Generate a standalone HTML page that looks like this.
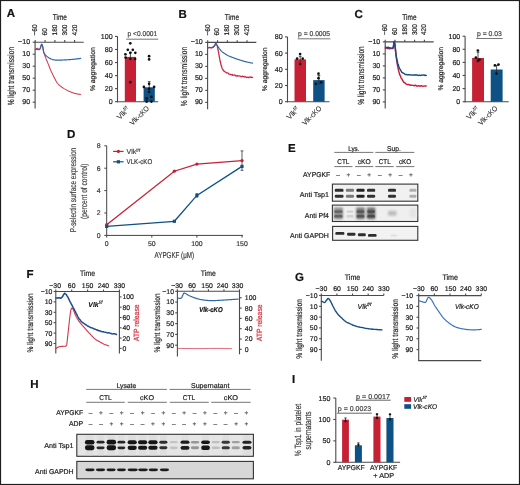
<!DOCTYPE html>
<html><head><meta charset="utf-8"><style>
html,body{margin:0;padding:0;background:#fff;}
body{width:520px;height:485px;overflow:hidden;}
svg{display:block;font-family:"Liberation Sans", sans-serif;text-rendering:geometricPrecision;will-change:transform;}
</style></head><body>
<svg width="520" height="485" viewBox="0 0 520 485">
<defs><filter id="bl" x="-30%" y="-100%" width="160%" height="300%"><feGaussianBlur stdDeviation="0.5"/></filter><filter id="bl3" x="-30%" y="-100%" width="160%" height="300%"><feGaussianBlur stdDeviation="0.7"/></filter><filter id="bl2" x="-30%" y="-50%" width="160%" height="200%"><feGaussianBlur stdDeviation="0.9"/></filter></defs>
<rect x="0.5" y="0.5" width="519" height="484" fill="#fff" stroke="#1e1e1e" stroke-width="1.2"/>
<g fill="#222">
<rect x="332.4" y="184.1" width="85.4" height="17.1" fill="#f1f1f1" stroke="#333" stroke-width="1.1"/>
<rect x="332.4" y="205.1" width="85.4" height="16.4" fill="#efefef" stroke="#333" stroke-width="1.1"/>
<rect x="332.6" y="226.4" width="85.2" height="13.9" fill="#f2f2f2" stroke="#333" stroke-width="1.1"/>
<rect x="334.8" y="188.75" width="8.7" height="3.1" rx="1.2" fill="#2d2d2d" filter="url(#bl3)"/>
<rect x="334.8" y="194.65" width="8.7" height="3.1" rx="1.2" fill="#2d2d2d" filter="url(#bl3)"/>
<rect x="345.9" y="188.75" width="8.1" height="3.1" rx="1.2" fill="#787878" filter="url(#bl3)"/>
<rect x="345.9" y="194.65" width="8.1" height="3.1" rx="1.2" fill="#787878" filter="url(#bl3)"/>
<rect x="356.4" y="188.75" width="8.2" height="3.1" rx="1.2" fill="#232323" filter="url(#bl3)"/>
<rect x="356.4" y="194.65" width="8.2" height="3.1" rx="1.2" fill="#232323" filter="url(#bl3)"/>
<rect x="367" y="188.75" width="8.2" height="3.1" rx="1.2" fill="#323232" filter="url(#bl3)"/>
<rect x="367" y="194.65" width="8.2" height="3.1" rx="1.2" fill="#323232" filter="url(#bl3)"/>
<rect x="388" y="188.75" width="8" height="3.1" rx="1.2" fill="#323232" filter="url(#bl3)"/>
<rect x="388" y="194.65" width="8" height="3.1" rx="1.2" fill="#323232" filter="url(#bl3)"/>
<rect x="409.4" y="188.75" width="7" height="3.1" rx="1.2" fill="#afafaf" filter="url(#bl3)"/>
<rect x="409.4" y="194.65" width="7" height="3.1" rx="1.2" fill="#afafaf" filter="url(#bl3)"/>
<rect x="333.8" y="207.5" width="9.2" height="11.7" rx="1.2" fill="#8c8c8c" filter="url(#bl2)"/>
<rect x="334.3" y="210.4" width="8.2" height="2.4" rx="1.2" fill="#646464" filter="url(#bl)"/>
<rect x="334.3" y="215" width="8.2" height="2.6" rx="1.2" fill="#646464" filter="url(#bl)"/>
<rect x="346" y="213.5" width="8" height="5.7" rx="1.2" fill="#ebebeb" filter="url(#bl2)"/>
<rect x="346.5" y="210.4" width="7" height="2.4" rx="1.2" fill="#d2d2d2" filter="url(#bl)"/>
<rect x="346.5" y="215" width="7" height="2.6" rx="1.2" fill="#d2d2d2" filter="url(#bl)"/>
<rect x="356.2" y="207.5" width="8.6" height="11.7" rx="1.2" fill="#787878" filter="url(#bl2)"/>
<rect x="356.7" y="210.4" width="7.6" height="2.4" rx="1.2" fill="#555555" filter="url(#bl)"/>
<rect x="356.7" y="215" width="7.6" height="2.6" rx="1.2" fill="#555555" filter="url(#bl)"/>
<rect x="366.8" y="207.5" width="8.6" height="11.7" rx="1.2" fill="#6e6e6e" filter="url(#bl2)"/>
<rect x="367.3" y="210.4" width="7.6" height="2.4" rx="1.2" fill="#4b4b4b" filter="url(#bl)"/>
<rect x="367.3" y="215" width="7.6" height="2.6" rx="1.2" fill="#4b4b4b" filter="url(#bl)"/>
<rect x="388" y="210.7" width="8.6" height="5" rx="1.2" fill="#bebebe" filter="url(#bl2)"/>
<rect x="409.6" y="208.5" width="6.6" height="9" rx="1.2" fill="#e4e4e4" filter="url(#bl2)"/>
<rect x="335.3" y="231.95" width="9.1" height="2.9" rx="1.2" fill="#2d2d2d" filter="url(#bl3)"/>
<rect x="347.1" y="232.85" width="8.4" height="2.9" rx="1.2" fill="#2d2d2d" filter="url(#bl3)"/>
<rect x="357.9" y="233.35" width="7.9" height="2.9" rx="1.2" fill="#2d2d2d" filter="url(#bl3)"/>
<rect x="368" y="233.95" width="8.6" height="2.9" rx="1.2" fill="#2d2d2d" filter="url(#bl3)"/>
<rect x="390.5" y="234.6" width="6.5" height="1.8" rx="0.9" fill="#e1e1e1" filter="url(#bl)"/>
<rect x="76.8" y="434.3" width="176.6" height="22" fill="#e5e5e5" stroke="#333" stroke-width="1.1"/>
<rect x="76.8" y="461.4" width="176.6" height="17.4" fill="#d7d7d7" stroke="#333" stroke-width="1.1"/>
<rect x="85.7" y="435.3" width="8" height="20" rx="1.2" fill="#dedede" filter="url(#bl3)"/>
<rect x="84.9" y="439.95" width="9.6" height="4.5" rx="2.3" ry="2.25" fill="#141414" filter="url(#bl3)"/>
<rect x="84.9" y="445.35" width="9.6" height="4.9" rx="2.3" ry="2.45" fill="#141414" filter="url(#bl3)"/>
<rect x="97.3" y="435.3" width="6.5" height="20" rx="1.2" fill="#dedede" filter="url(#bl3)"/>
<rect x="96.5" y="440.85" width="8.1" height="2.7" rx="1.94" ry="1.35" fill="#282828" filter="url(#bl3)"/>
<rect x="96.5" y="446.45" width="8.1" height="2.7" rx="1.94" ry="1.35" fill="#282828" filter="url(#bl3)"/>
<rect x="107.4" y="435.3" width="7.9" height="20" rx="1.2" fill="#dedede" filter="url(#bl3)"/>
<rect x="106.6" y="439.85" width="9.5" height="4.7" rx="2.28" ry="2.35" fill="#141414" filter="url(#bl3)"/>
<rect x="106.6" y="445.35" width="9.5" height="4.9" rx="2.28" ry="2.45" fill="#141414" filter="url(#bl3)"/>
<rect x="118.3" y="435.3" width="6.2" height="20" rx="1.2" fill="#dedede" filter="url(#bl3)"/>
<rect x="117.5" y="440.85" width="7.8" height="2.7" rx="1.87" ry="1.35" fill="#282828" filter="url(#bl3)"/>
<rect x="117.5" y="446.45" width="7.8" height="2.7" rx="1.87" ry="1.35" fill="#282828" filter="url(#bl3)"/>
<rect x="128.4" y="435.3" width="7.6" height="20" rx="1.2" fill="#dedede" filter="url(#bl3)"/>
<rect x="127.6" y="440.15" width="9.2" height="4.1" rx="2.21" ry="2.05" fill="#141414" filter="url(#bl3)"/>
<rect x="127.6" y="445.65" width="9.2" height="4.3" rx="2.21" ry="2.15" fill="#141414" filter="url(#bl3)"/>
<rect x="138.8" y="435.3" width="7.6" height="20" rx="1.2" fill="#dedede" filter="url(#bl3)"/>
<rect x="138" y="440.25" width="9.2" height="3.9" rx="2.21" ry="1.95" fill="#191919" filter="url(#bl3)"/>
<rect x="138" y="445.75" width="9.2" height="4.1" rx="2.21" ry="2.05" fill="#191919" filter="url(#bl3)"/>
<rect x="149.1" y="435.3" width="7.7" height="20" rx="1.2" fill="#dedede" filter="url(#bl3)"/>
<rect x="148.3" y="440.25" width="9.3" height="3.9" rx="2.23" ry="1.95" fill="#191919" filter="url(#bl3)"/>
<rect x="148.3" y="445.75" width="9.3" height="4.1" rx="2.23" ry="2.05" fill="#191919" filter="url(#bl3)"/>
<rect x="160.1" y="435.3" width="6.5" height="20" rx="1.2" fill="#dedede" filter="url(#bl3)"/>
<rect x="159.3" y="440.75" width="8.1" height="2.9" rx="1.94" ry="1.45" fill="#2d2d2d" filter="url(#bl3)"/>
<rect x="159.3" y="446.35" width="8.1" height="2.9" rx="1.94" ry="1.45" fill="#2d2d2d" filter="url(#bl3)"/>
<rect x="169.7" y="441.05" width="8.1" height="2.3" rx="1.94" ry="1.15" fill="#c3c3c3" filter="url(#bl3)"/>
<rect x="169.7" y="446.45" width="8.1" height="2.7" rx="1.94" ry="1.35" fill="#c3c3c3" filter="url(#bl3)"/>
<rect x="181.3" y="435.3" width="7.4" height="20" rx="1.2" fill="#dedede" filter="url(#bl3)"/>
<rect x="180.5" y="440.55" width="9" height="3.3" rx="2.16" ry="1.65" fill="#1e1e1e" filter="url(#bl3)"/>
<rect x="180.5" y="445.95" width="9" height="3.7" rx="2.16" ry="1.85" fill="#1e1e1e" filter="url(#bl3)"/>
<rect x="190.9" y="440.95" width="8.2" height="2.5" rx="1.97" ry="1.25" fill="#969696" filter="url(#bl3)"/>
<rect x="190.9" y="446.35" width="8.2" height="2.9" rx="1.97" ry="1.45" fill="#969696" filter="url(#bl3)"/>
<rect x="202" y="435.3" width="7.1" height="20" rx="1.2" fill="#dedede" filter="url(#bl3)"/>
<rect x="201.2" y="440.45" width="8.7" height="3.5" rx="2.09" ry="1.75" fill="#141414" filter="url(#bl3)"/>
<rect x="201.2" y="445.55" width="8.7" height="4.5" rx="2.09" ry="2.25" fill="#141414" filter="url(#bl3)"/>
<rect x="211.6" y="441.05" width="8.3" height="2.3" rx="1.99" ry="1.15" fill="#bebebe" filter="url(#bl3)"/>
<rect x="211.6" y="446.55" width="8.3" height="2.5" rx="1.99" ry="1.25" fill="#bebebe" filter="url(#bl3)"/>
<rect x="222.4" y="435.3" width="6.7" height="20" rx="1.2" fill="#dedede" filter="url(#bl3)"/>
<rect x="221.6" y="440.75" width="8.3" height="2.9" rx="1.99" ry="1.45" fill="#373737" filter="url(#bl3)"/>
<rect x="221.6" y="446.25" width="8.3" height="3.1" rx="1.99" ry="1.55" fill="#373737" filter="url(#bl3)"/>
<rect x="231.6" y="441.05" width="8.3" height="2.3" rx="1.99" ry="1.15" fill="#a0a0a0" filter="url(#bl3)"/>
<rect x="231.6" y="446.25" width="8.3" height="3.1" rx="1.99" ry="1.55" fill="#a0a0a0" filter="url(#bl3)"/>
<rect x="243.2" y="435.3" width="7.5" height="20" rx="1.2" fill="#dedede" filter="url(#bl3)"/>
<rect x="242.4" y="440.65" width="9.1" height="3.1" rx="2.18" ry="1.55" fill="#232323" filter="url(#bl3)"/>
<rect x="242.4" y="446.05" width="9.1" height="3.5" rx="2.18" ry="1.75" fill="#232323" filter="url(#bl3)"/>
<rect x="85.3" y="468.4" width="9.3" height="2.8" rx="2.42" ry="1.4" fill="#1e1e1e" filter="url(#bl3)"/>
<rect x="95.9" y="468.4" width="9.2" height="2.8" rx="2.39" ry="1.4" fill="#1e1e1e" filter="url(#bl3)"/>
<rect x="106.5" y="468.4" width="9.2" height="2.8" rx="2.39" ry="1.4" fill="#1e1e1e" filter="url(#bl3)"/>
<rect x="117" y="468.4" width="8.9" height="2.8" rx="2.31" ry="1.4" fill="#1e1e1e" filter="url(#bl3)"/>
<rect x="127.6" y="468.4" width="10.2" height="2.8" rx="2.65" ry="1.4" fill="#1e1e1e" filter="url(#bl3)"/>
<rect x="138.2" y="468.4" width="9.6" height="2.8" rx="2.5" ry="1.4" fill="#1e1e1e" filter="url(#bl3)"/>
<rect x="148.7" y="468.4" width="9.3" height="2.8" rx="2.42" ry="1.4" fill="#1e1e1e" filter="url(#bl3)"/>
<rect x="159.9" y="468.4" width="9.1" height="2.8" rx="2.37" ry="1.4" fill="#1e1e1e" filter="url(#bl3)"/>
<text x="6.8" y="17.2" font-size="11.5" stroke="#111" stroke-width="0.2" fill="#111" font-weight="bold">A</text>
<line x1="35.1" y1="42.2" x2="83.8" y2="42.2" stroke="#4a4a4a" stroke-width="1.1"/>
<line x1="35.1" y1="41.65" x2="35.1" y2="108.5" stroke="#4a4a4a" stroke-width="1.1"/>
<line x1="35.2" y1="42.2" x2="35.2" y2="40" stroke="#4a4a4a" stroke-width="1.1"/>
<text font-size="6.9" stroke="#222" stroke-width="0.2" transform="translate(37.1 35.4) rotate(-90) scale(0.9300 1)">−60</text>
<line x1="45.05" y1="42.2" x2="45.05" y2="40" stroke="#4a4a4a" stroke-width="1.1"/>
<text font-size="6.9" stroke="#222" stroke-width="0.2" transform="translate(46.95 35.4) rotate(-90) scale(0.9300 1)">60</text>
<line x1="54.9" y1="42.2" x2="54.9" y2="40" stroke="#4a4a4a" stroke-width="1.1"/>
<text font-size="6.9" stroke="#222" stroke-width="0.2" transform="translate(56.8 35.4) rotate(-90) scale(0.9300 1)">180</text>
<line x1="64.75" y1="42.2" x2="64.75" y2="40" stroke="#4a4a4a" stroke-width="1.1"/>
<text font-size="6.9" stroke="#222" stroke-width="0.2" transform="translate(66.65 35.4) rotate(-90) scale(0.9300 1)">300</text>
<line x1="74.6" y1="42.2" x2="74.6" y2="40" stroke="#4a4a4a" stroke-width="1.1"/>
<text font-size="6.9" stroke="#222" stroke-width="0.2" transform="translate(76.5 35.4) rotate(-90) scale(0.9300 1)">420</text>
<line x1="32.7" y1="42.2" x2="35.1" y2="42.2" stroke="#4a4a4a" stroke-width="1.1"/>
<text x="30.1" y="44.1" font-size="7.1" stroke="#222" stroke-width="0.2" text-anchor="end">−10</text>
<line x1="32.7" y1="54.2" x2="35.1" y2="54.2" stroke="#4a4a4a" stroke-width="1.1"/>
<text x="30.1" y="56.1" font-size="7.1" stroke="#222" stroke-width="0.2" text-anchor="end">10</text>
<line x1="32.7" y1="66.2" x2="35.1" y2="66.2" stroke="#4a4a4a" stroke-width="1.1"/>
<text x="30.1" y="68.1" font-size="7.1" stroke="#222" stroke-width="0.2" text-anchor="end">30</text>
<line x1="32.7" y1="78.2" x2="35.1" y2="78.2" stroke="#4a4a4a" stroke-width="1.1"/>
<text x="30.1" y="80.1" font-size="7.1" stroke="#222" stroke-width="0.2" text-anchor="end">50</text>
<line x1="32.7" y1="90.2" x2="35.1" y2="90.2" stroke="#4a4a4a" stroke-width="1.1"/>
<text x="30.1" y="92.1" font-size="7.1" stroke="#222" stroke-width="0.2" text-anchor="end">70</text>
<line x1="32.7" y1="102.2" x2="35.1" y2="102.2" stroke="#4a4a4a" stroke-width="1.1"/>
<text x="30.1" y="104.1" font-size="7.1" stroke="#222" stroke-width="0.2" text-anchor="end">90</text>
<text font-size="8.2" stroke="#222" stroke-width="0.2" text-anchor="middle" transform="translate(59.8 20.1) scale(0.7925 1)">Time</text>
<text font-size="8.8" stroke="#222" stroke-width="0.2" text-anchor="middle" transform="translate(13.8 76.1) rotate(-90) scale(0.7476 1)">% light transmission</text>
<path d="M35.3 49.3 L35.66 49.1 L36.17 48.8 L36.75 48.53 L37.3 48.4 L37.82 48.54 L38.35 48.85 L38.86 49.14 L39.3 49.2 L39.66 48.99 L39.95 48.61 L40.22 48.1 L40.5 47.5 L40.67 47.06 L40.85 46.49 L41.02 45.87 L41.19 45.26 L41.36 44.73 L41.53 44.35 L41.7 44.2 L41.89 44.31 L42.08 44.65 L42.26 45.17 L42.44 45.8 L42.62 46.5 L42.8 47.2 L42.9 47.63 L42.99 48.08 L43.07 48.57 L43.15 49.07 L43.23 49.6 L43.32 50.14 L43.41 50.7 L43.52 51.26 L43.65 51.83 L43.8 52.4 L43.93 52.85 L44.07 53.3 L44.22 53.77 L44.38 54.25 L44.55 54.73 L44.72 55.22 L44.9 55.71 L45.08 56.2 L45.27 56.69 L45.45 57.18 L45.64 57.66 L45.82 58.13 L46 58.6 L46.19 59.09 L46.38 59.57 L46.57 60.05 L46.77 60.51 L46.96 60.97 L47.16 61.44 L47.35 61.9 L47.56 62.38 L47.76 62.86 L47.97 63.36 L48.18 63.87 L48.4 64.4 L48.58 64.84 L48.76 65.29 L48.94 65.76 L49.13 66.24 L49.31 66.72 L49.5 67.21 L49.7 67.7 L49.89 68.2 L50.09 68.7 L50.29 69.19 L50.48 69.69 L50.69 70.18 L50.89 70.66 L51.09 71.13 L51.3 71.6 L51.53 72.09 L51.76 72.59 L52 73.09 L52.24 73.59 L52.48 74.09 L52.73 74.58 L52.97 75.07 L53.22 75.55 L53.46 76.02 L53.7 76.48 L53.94 76.94 L54.17 77.37 L54.39 77.79 L54.6 78.2 L54.88 78.74 L55.14 79.25 L55.38 79.74 L55.62 80.21 L55.85 80.66 L56.08 81.09 L56.32 81.5 L56.56 81.91 L56.82 82.31 L57.1 82.7 L57.43 83.12 L57.76 83.52 L58.11 83.9 L58.47 84.27 L58.83 84.63 L59.21 84.97 L59.6 85.32 L59.99 85.66 L60.4 86 L60.77 86.31 L61.16 86.61 L61.55 86.91 L61.94 87.21 L62.35 87.5 L62.76 87.79 L63.19 88.07 L63.62 88.35 L64.05 88.63 L64.5 88.9 L64.91 89.14 L65.33 89.38 L65.75 89.62 L66.19 89.86 L66.62 90.09 L67.07 90.31 L67.52 90.54 L67.98 90.76 L68.44 90.98 L68.92 91.19 L69.4 91.4 L69.85 91.59 L70.32 91.79 L70.8 91.98 L71.28 92.17 L71.77 92.36 L72.27 92.54 L72.77 92.72 L73.26 92.9 L73.76 93.06 L74.25 93.22 L74.73 93.36 L75.2 93.5 L75.78 93.65 L76.39 93.79 L77.02 93.91 L77.65 94.03 L78.26 94.13 L78.85 94.22 L79.39 94.31 L79.87 94.38 L80.28 94.45 L80.6 94.5" fill="none" stroke="#d63f56" stroke-width="1.1" stroke-linejoin="round" stroke-linecap="round"/>
<path d="M35.3 49.4 L35.65 49.42 L36.16 49.44 L36.74 49.47 L37.3 49.5 L37.86 49.58 L38.46 49.69 L39.03 49.73 L39.5 49.6 L39.83 49.26 L40.06 48.76 L40.26 48.15 L40.5 47.5 L40.69 46.96 L40.89 46.29 L41.09 45.59 L41.3 44.96 L41.5 44.49 L41.7 44.3 L41.89 44.41 L42.08 44.74 L42.26 45.24 L42.44 45.85 L42.62 46.52 L42.8 47.2 L42.9 47.62 L42.99 48.09 L43.07 48.6 L43.15 49.13 L43.23 49.68 L43.32 50.22 L43.41 50.76 L43.52 51.28 L43.65 51.76 L43.8 52.2 L44.04 52.77 L44.31 53.29 L44.61 53.78 L44.93 54.24 L45.27 54.67 L45.63 55.09 L46 55.5 L46.39 55.9 L46.8 56.27 L47.23 56.63 L47.68 56.97 L48.14 57.29 L48.62 57.6 L49.1 57.9 L49.53 58.15 L49.95 58.4 L50.39 58.64 L50.84 58.86 L51.3 59.07 L51.78 59.27 L52.28 59.44 L52.8 59.6 L53.29 59.72 L53.8 59.82 L54.33 59.91 L54.87 59.99 L55.43 60.05 L55.99 60.1 L56.56 60.14 L57.13 60.17 L57.7 60.2 L58.21 60.21 L58.71 60.21 L59.21 60.21 L59.71 60.19 L60.22 60.16 L60.74 60.13 L61.27 60.1 L61.82 60.07 L62.4 60.03 L63 60 L63.45 59.98 L63.92 59.96 L64.41 59.93 L64.91 59.91 L65.42 59.88 L65.93 59.85 L66.46 59.83 L66.98 59.8 L67.5 59.77 L68.02 59.73 L68.54 59.7 L69.04 59.67 L69.53 59.64 L70 59.6 L70.54 59.56 L71.07 59.51 L71.6 59.46 L72.12 59.41 L72.64 59.36 L73.14 59.31 L73.64 59.26 L74.13 59.21 L74.61 59.15 L75.09 59.1 L75.55 59.05 L76 59 L76.61 58.93 L77.22 58.86 L77.84 58.78 L78.44 58.7 L79 58.63 L79.53 58.56 L80 58.49 L80.39 58.44 L80.7 58.4" fill="none" stroke="#2c69a4" stroke-width="1.2" stroke-linejoin="round" stroke-linecap="round"/>
<line x1="117.5" y1="36.3" x2="117.5" y2="102.25" stroke="#4a4a4a" stroke-width="1.1"/>
<line x1="116.95" y1="101.7" x2="158.2" y2="101.7" stroke="#4a4a4a" stroke-width="1.1"/>
<line x1="115" y1="101.7" x2="117.5" y2="101.7" stroke="#4a4a4a" stroke-width="1.1"/>
<text x="112.6" y="104.2" font-size="7.1" stroke="#222" stroke-width="0.2" text-anchor="end">0</text>
<line x1="115" y1="88.65" x2="117.5" y2="88.65" stroke="#4a4a4a" stroke-width="1.1"/>
<text x="112.6" y="91.15" font-size="7.1" stroke="#222" stroke-width="0.2" text-anchor="end">20</text>
<line x1="115" y1="75.6" x2="117.5" y2="75.6" stroke="#4a4a4a" stroke-width="1.1"/>
<text x="112.6" y="78.1" font-size="7.1" stroke="#222" stroke-width="0.2" text-anchor="end">40</text>
<line x1="115" y1="62.55" x2="117.5" y2="62.55" stroke="#4a4a4a" stroke-width="1.1"/>
<text x="112.6" y="65.05" font-size="7.1" stroke="#222" stroke-width="0.2" text-anchor="end">60</text>
<line x1="115" y1="49.5" x2="117.5" y2="49.5" stroke="#4a4a4a" stroke-width="1.1"/>
<text x="112.6" y="52" font-size="7.1" stroke="#222" stroke-width="0.2" text-anchor="end">80</text>
<line x1="115" y1="36.45" x2="117.5" y2="36.45" stroke="#4a4a4a" stroke-width="1.1"/>
<text x="112.6" y="38.95" font-size="7.1" stroke="#222" stroke-width="0.2" text-anchor="end">100</text>
<text font-size="6.9" stroke="#222" stroke-width="0.2" text-anchor="middle" transform="translate(95 69.2) rotate(-90) scale(0.9843 1)">% aggregation</text>
<rect x="124.8" y="56.9" width="11.2" height="44.8" fill="#c62035"/>
<rect x="143.6" y="87.3" width="11.2" height="14.4" fill="#0e5285"/>
<line x1="130.4" y1="52.4" x2="130.4" y2="60" stroke="#222" stroke-width="0.8"/>
<line x1="129" y1="52.4" x2="131.8" y2="52.4" stroke="#222" stroke-width="0.8"/>
<line x1="149.2" y1="81.7" x2="149.2" y2="92" stroke="#222" stroke-width="0.8"/>
<line x1="147.8" y1="81.7" x2="150.6" y2="81.7" stroke="#222" stroke-width="0.8"/>
<circle cx="130.3" cy="43.3" r="1.35" fill="#111"/>
<circle cx="127.8" cy="49.8" r="1.35" fill="#111"/>
<circle cx="132.8" cy="49.8" r="1.35" fill="#111"/>
<circle cx="125.4" cy="54.3" r="1.35" fill="#111"/>
<circle cx="130.3" cy="52.8" r="1.35" fill="#111"/>
<circle cx="135.3" cy="52.8" r="1.35" fill="#111"/>
<circle cx="125.6" cy="57.6" r="1.35" fill="#111"/>
<circle cx="130.3" cy="59" r="1.35" fill="#111"/>
<circle cx="135.1" cy="59" r="1.35" fill="#111"/>
<circle cx="130.3" cy="82.2" r="1.35" fill="#111"/>
<circle cx="149.1" cy="56.2" r="1.35" fill="#111"/>
<circle cx="149.1" cy="59.4" r="1.35" fill="#111"/>
<circle cx="143.9" cy="86.9" r="1.35" fill="#111"/>
<circle cx="154.1" cy="86.9" r="1.35" fill="#111"/>
<circle cx="149.1" cy="83.8" r="1.35" fill="#111"/>
<circle cx="149.1" cy="88.8" r="1.35" fill="#111"/>
<circle cx="149.1" cy="92" r="1.35" fill="#111"/>
<circle cx="146.7" cy="98.4" r="1.35" fill="#111"/>
<circle cx="151.4" cy="96.9" r="1.35" fill="#111"/>
<circle cx="146.7" cy="101.6" r="1.35" fill="#111"/>
<circle cx="151.4" cy="101.6" r="1.35" fill="#111"/>
<line x1="126.2" y1="39.2" x2="158.2" y2="39.2" stroke="#666" stroke-width="0.9"/>
<text font-size="7" stroke="#444" stroke-width="0.2" fill="#444" transform="translate(127.5 36.3) scale(0.9479 1)">p &lt;0.0001</text>
<text transform="translate(129.9 110) rotate(-45) scale(0.98 1)" font-size="7.4" text-anchor="end" fill="#2a2a2a" stroke="#2a2a2a" stroke-width="0.08">Vlk<tspan font-size="5" dy="-2.8">f/f</tspan></text>
<text transform="translate(149.6 109) rotate(-45) scale(0.8771 1)" font-size="7.4" text-anchor="end" fill="#2a2a2a" stroke="#2a2a2a" stroke-width="0.08">Vlk-cKO</text>
<text x="178.6" y="18.2" font-size="11.5" stroke="#111" stroke-width="0.2" fill="#111" font-weight="bold">B</text>
<line x1="207.6" y1="42.4" x2="256.3" y2="42.4" stroke="#4a4a4a" stroke-width="1.1"/>
<line x1="207.6" y1="41.85" x2="207.6" y2="109.2" stroke="#4a4a4a" stroke-width="1.1"/>
<line x1="207.7" y1="42.4" x2="207.7" y2="40.2" stroke="#4a4a4a" stroke-width="1.1"/>
<text font-size="6.9" stroke="#222" stroke-width="0.2" transform="translate(209.6 35.4) rotate(-90) scale(0.9300 1)">−60</text>
<line x1="217.53" y1="42.4" x2="217.53" y2="40.2" stroke="#4a4a4a" stroke-width="1.1"/>
<text font-size="6.9" stroke="#222" stroke-width="0.2" transform="translate(219.43 35.4) rotate(-90) scale(0.9300 1)">60</text>
<line x1="227.36" y1="42.4" x2="227.36" y2="40.2" stroke="#4a4a4a" stroke-width="1.1"/>
<text font-size="6.9" stroke="#222" stroke-width="0.2" transform="translate(229.26 35.4) rotate(-90) scale(0.9300 1)">180</text>
<line x1="237.19" y1="42.4" x2="237.19" y2="40.2" stroke="#4a4a4a" stroke-width="1.1"/>
<text font-size="6.9" stroke="#222" stroke-width="0.2" transform="translate(239.09 35.4) rotate(-90) scale(0.9300 1)">300</text>
<line x1="247.02" y1="42.4" x2="247.02" y2="40.2" stroke="#4a4a4a" stroke-width="1.1"/>
<text font-size="6.9" stroke="#222" stroke-width="0.2" transform="translate(248.92 35.4) rotate(-90) scale(0.9300 1)">420</text>
<line x1="205.2" y1="42.4" x2="207.6" y2="42.4" stroke="#4a4a4a" stroke-width="1.1"/>
<text x="202.8" y="44.3" font-size="7.1" stroke="#222" stroke-width="0.2" text-anchor="end">−10</text>
<line x1="205.2" y1="54.4" x2="207.6" y2="54.4" stroke="#4a4a4a" stroke-width="1.1"/>
<text x="202.8" y="56.3" font-size="7.1" stroke="#222" stroke-width="0.2" text-anchor="end">10</text>
<line x1="205.2" y1="66.4" x2="207.6" y2="66.4" stroke="#4a4a4a" stroke-width="1.1"/>
<text x="202.8" y="68.3" font-size="7.1" stroke="#222" stroke-width="0.2" text-anchor="end">30</text>
<line x1="205.2" y1="78.4" x2="207.6" y2="78.4" stroke="#4a4a4a" stroke-width="1.1"/>
<text x="202.8" y="80.3" font-size="7.1" stroke="#222" stroke-width="0.2" text-anchor="end">50</text>
<line x1="205.2" y1="90.4" x2="207.6" y2="90.4" stroke="#4a4a4a" stroke-width="1.1"/>
<text x="202.8" y="92.3" font-size="7.1" stroke="#222" stroke-width="0.2" text-anchor="end">70</text>
<line x1="205.2" y1="102.4" x2="207.6" y2="102.4" stroke="#4a4a4a" stroke-width="1.1"/>
<text x="202.8" y="104.3" font-size="7.1" stroke="#222" stroke-width="0.2" text-anchor="end">90</text>
<text font-size="8.2" stroke="#222" stroke-width="0.2" text-anchor="middle" transform="translate(231.9 20.2) scale(0.7925 1)">Time</text>
<text font-size="8.8" stroke="#222" stroke-width="0.2" text-anchor="middle" transform="translate(186.6 76.5) rotate(-90) scale(0.7617 1)">% light transmission</text>
<path d="M207.9 47.66 L208.45 47.84 L209.23 47.54 L210 47.69 L211.04 47.97 L212 47.61 L212.79 47.07 L213.5 47.1 L214.18 45.98 L214.8 45.26 L215.14 45.21 L215.45 43.93 L215.8 43.9 L216.25 43.89 L216.74 44.81 L217.2 45.49 L217.37 46.51 L217.54 47.42 L217.7 47.87 L217.85 48.88 L218 49.64 L218.15 49.92 L218.3 51.33 L218.45 51.95 L218.59 52.45 L218.73 52.97 L218.87 54.49 L219.01 54.91 L219.15 55.91 L219.3 56.84 L219.43 57.4 L219.57 58.31 L219.7 58.58 L219.84 59.68 L219.98 60.09 L220.12 61.25 L220.26 61.89 L220.4 61.84 L220.59 62.7 L220.79 63.56 L220.99 64.98 L221.19 65.22 L221.39 66.07 L221.6 66.42 L221.88 67.49 L222.13 68.17 L222.45 68.87 L222.9 69.78 L223.38 70.3 L223.92 71.08 L224.54 71.34 L225.24 72.02 L226 72.42 L226.59 72.88 L227.23 72.94 L227.91 72.84 L228.61 73.81 L229.35 74.23 L230.12 74.48 L230.9 74.46 L231.52 74.79 L232.17 74.52 L232.82 75.25 L233.5 75.17 L234.18 75.06 L234.89 75 L235.61 75.85 L236.35 76.11 L237.1 75.43 L237.8 76.19 L238.51 75.95 L239.24 75.82 L239.98 76.05 L240.74 76.58 L241.5 76.77 L242.27 76.12 L243.05 76.72 L243.82 76.3 L244.6 77 L245.34 76.73 L246.13 77.31 L246.96 77.49 L247.81 77.14 L248.65 77.67 L249.48 77.13 L250.26 77 L250.98 77.53 L251.63 77.08 L252.17 77.29 L252.6 77.52" fill="none" stroke="#cf2742" stroke-width="1.3" stroke-linejoin="round" stroke-linecap="round"/>
<path d="M207.9 47.6 L208.28 47.55 L208.83 47.48 L209.43 47.42 L210 47.4 L210.52 47.47 L211.04 47.61 L211.54 47.71 L212 47.7 L212.54 47.44 L213.03 47.03 L213.5 46.6 L213.96 46.2 L214.4 45.79 L214.8 45.3 L215.05 44.76 L215.28 44.11 L215.51 43.57 L215.8 43.4 L216.04 43.57 L216.29 43.91 L216.57 44.38 L216.86 44.92 L217.17 45.48 L217.5 46 L217.8 46.43 L218.12 46.89 L218.45 47.37 L218.79 47.85 L219.13 48.33 L219.47 48.78 L219.8 49.2 L220.17 49.65 L220.52 50.07 L220.87 50.48 L221.23 50.86 L221.6 51.23 L222 51.6 L222.43 51.96 L222.87 52.3 L223.34 52.62 L223.81 52.95 L224.3 53.27 L224.8 53.6 L225.23 53.89 L225.66 54.18 L226.09 54.47 L226.54 54.76 L227 55.05 L227.49 55.33 L228 55.6 L228.42 55.8 L228.86 56 L229.32 56.19 L229.79 56.38 L230.27 56.57 L230.76 56.75 L231.24 56.93 L231.72 57.12 L232.2 57.3 L232.67 57.48 L233.15 57.67 L233.63 57.85 L234.1 58.03 L234.58 58.21 L235.06 58.39 L235.54 58.56 L236.02 58.73 L236.5 58.9 L236.97 59.06 L237.44 59.22 L237.9 59.38 L238.36 59.53 L238.83 59.68 L239.3 59.83 L239.78 59.99 L240.28 60.14 L240.8 60.3 L241.28 60.45 L241.76 60.6 L242.25 60.75 L242.75 60.9 L243.26 61.05 L243.78 61.2 L244.31 61.35 L244.86 61.5 L245.42 61.65 L246 61.8 L246.48 61.91 L247 62.03 L247.56 62.16 L248.14 62.28 L248.74 62.41 L249.33 62.53 L249.92 62.65 L250.48 62.77 L251.01 62.88 L251.5 62.97 L251.93 63.06 L252.3 63.14 L252.6 63.2" fill="none" stroke="#2c69a4" stroke-width="1.2" stroke-linejoin="round" stroke-linecap="round"/>
<line x1="287.5" y1="36.9" x2="287.5" y2="102.25" stroke="#4a4a4a" stroke-width="1.1"/>
<line x1="286.95" y1="101.7" x2="329.5" y2="101.7" stroke="#4a4a4a" stroke-width="1.1"/>
<line x1="285" y1="101.7" x2="287.5" y2="101.7" stroke="#4a4a4a" stroke-width="1.1"/>
<text x="282.6" y="104.2" font-size="7.1" stroke="#222" stroke-width="0.2" text-anchor="end">0</text>
<line x1="285" y1="85.5" x2="287.5" y2="85.5" stroke="#4a4a4a" stroke-width="1.1"/>
<text x="282.6" y="88" font-size="7.1" stroke="#222" stroke-width="0.2" text-anchor="end">20</text>
<line x1="285" y1="69.3" x2="287.5" y2="69.3" stroke="#4a4a4a" stroke-width="1.1"/>
<text x="282.6" y="71.8" font-size="7.1" stroke="#222" stroke-width="0.2" text-anchor="end">40</text>
<line x1="285" y1="53.1" x2="287.5" y2="53.1" stroke="#4a4a4a" stroke-width="1.1"/>
<text x="282.6" y="55.6" font-size="7.1" stroke="#222" stroke-width="0.2" text-anchor="end">60</text>
<line x1="285" y1="36.9" x2="287.5" y2="36.9" stroke="#4a4a4a" stroke-width="1.1"/>
<text x="282.6" y="39.4" font-size="7.1" stroke="#222" stroke-width="0.2" text-anchor="end">80</text>
<text font-size="6.9" stroke="#222" stroke-width="0.2" text-anchor="middle" transform="translate(266.9 69.4) rotate(-90) scale(0.9843 1)">% aggregation</text>
<rect x="294.5" y="59.4" width="11.5" height="42.3" fill="#c62035"/>
<rect x="313.2" y="80.1" width="11.4" height="21.6" fill="#0e5285"/>
<line x1="300.2" y1="56.3" x2="300.2" y2="62.5" stroke="#222" stroke-width="0.8"/>
<line x1="298.8" y1="56.3" x2="301.6" y2="56.3" stroke="#222" stroke-width="0.8"/>
<line x1="318.9" y1="75.6" x2="318.9" y2="84.5" stroke="#222" stroke-width="0.8"/>
<line x1="317.5" y1="75.6" x2="320.3" y2="75.6" stroke="#222" stroke-width="0.8"/>
<circle cx="300.1" cy="54.1" r="1.35" fill="#111"/>
<circle cx="297.1" cy="58.7" r="1.35" fill="#111"/>
<circle cx="302.7" cy="58.7" r="1.35" fill="#111"/>
<circle cx="300.1" cy="64" r="1.35" fill="#111"/>
<circle cx="318.5" cy="73.7" r="1.35" fill="#111"/>
<circle cx="318.5" cy="78.2" r="1.35" fill="#111"/>
<circle cx="315.9" cy="83.8" r="1.35" fill="#111"/>
<circle cx="321.2" cy="82.4" r="1.35" fill="#111"/>
<line x1="297.8" y1="38.8" x2="330.4" y2="38.8" stroke="#666" stroke-width="0.9"/>
<text font-size="7" stroke="#444" stroke-width="0.2" fill="#444" transform="translate(298.1 36.2) scale(0.9616 1)">p = 0.0005</text>
<text transform="translate(299.8 110) rotate(-45) scale(0.98 1)" font-size="7.4" text-anchor="end" fill="#2a2a2a" stroke="#2a2a2a" stroke-width="0.08">Vlk<tspan font-size="5" dy="-2.8">f/f</tspan></text>
<text transform="translate(322 109) rotate(-45) scale(0.8771 1)" font-size="7.4" text-anchor="end" fill="#2a2a2a" stroke="#2a2a2a" stroke-width="0.08">Vlk-cKO</text>
<text x="354.5" y="17.6" font-size="11.5" stroke="#111" stroke-width="0.2" fill="#111" font-weight="bold">C</text>
<line x1="385.2" y1="41.9" x2="433.7" y2="41.9" stroke="#4a4a4a" stroke-width="1.1"/>
<line x1="385.2" y1="41.35" x2="385.2" y2="108.5" stroke="#4a4a4a" stroke-width="1.1"/>
<line x1="385.2" y1="41.9" x2="385.2" y2="39.7" stroke="#4a4a4a" stroke-width="1.1"/>
<text font-size="6.9" stroke="#222" stroke-width="0.2" transform="translate(387.1 35) rotate(-90) scale(0.9300 1)">−60</text>
<line x1="395" y1="41.9" x2="395" y2="39.7" stroke="#4a4a4a" stroke-width="1.1"/>
<text font-size="6.9" stroke="#222" stroke-width="0.2" transform="translate(396.9 35) rotate(-90) scale(0.9300 1)">60</text>
<line x1="404.8" y1="41.9" x2="404.8" y2="39.7" stroke="#4a4a4a" stroke-width="1.1"/>
<text font-size="6.9" stroke="#222" stroke-width="0.2" transform="translate(406.7 35) rotate(-90) scale(0.9300 1)">180</text>
<line x1="414.6" y1="41.9" x2="414.6" y2="39.7" stroke="#4a4a4a" stroke-width="1.1"/>
<text font-size="6.9" stroke="#222" stroke-width="0.2" transform="translate(416.5 35) rotate(-90) scale(0.9300 1)">300</text>
<line x1="424.4" y1="41.9" x2="424.4" y2="39.7" stroke="#4a4a4a" stroke-width="1.1"/>
<text font-size="6.9" stroke="#222" stroke-width="0.2" transform="translate(426.3 35) rotate(-90) scale(0.9300 1)">420</text>
<line x1="382.8" y1="41.9" x2="385.2" y2="41.9" stroke="#4a4a4a" stroke-width="1.1"/>
<text x="380.3" y="43.8" font-size="7.1" stroke="#222" stroke-width="0.2" text-anchor="end">−10</text>
<line x1="382.8" y1="53.9" x2="385.2" y2="53.9" stroke="#4a4a4a" stroke-width="1.1"/>
<text x="380.3" y="55.8" font-size="7.1" stroke="#222" stroke-width="0.2" text-anchor="end">10</text>
<line x1="382.8" y1="65.9" x2="385.2" y2="65.9" stroke="#4a4a4a" stroke-width="1.1"/>
<text x="380.3" y="67.8" font-size="7.1" stroke="#222" stroke-width="0.2" text-anchor="end">30</text>
<line x1="382.8" y1="77.9" x2="385.2" y2="77.9" stroke="#4a4a4a" stroke-width="1.1"/>
<text x="380.3" y="79.8" font-size="7.1" stroke="#222" stroke-width="0.2" text-anchor="end">50</text>
<line x1="382.8" y1="89.9" x2="385.2" y2="89.9" stroke="#4a4a4a" stroke-width="1.1"/>
<text x="380.3" y="91.8" font-size="7.1" stroke="#222" stroke-width="0.2" text-anchor="end">70</text>
<line x1="382.8" y1="101.9" x2="385.2" y2="101.9" stroke="#4a4a4a" stroke-width="1.1"/>
<text x="380.3" y="103.8" font-size="7.1" stroke="#222" stroke-width="0.2" text-anchor="end">90</text>
<text font-size="8.2" stroke="#222" stroke-width="0.2" text-anchor="middle" transform="translate(409.4 19.6) scale(0.7925 1)">Time</text>
<text font-size="8.8" stroke="#222" stroke-width="0.2" text-anchor="middle" transform="translate(364.3 75.5) rotate(-90) scale(0.7476 1)">% light transmission</text>
<path d="M385.4 48.29 L385.89 47.94 L386.57 47.87 L387.37 48.55 L388.21 48.13 L389 48.67 L389.8 48.69 L390.65 48.39 L391.49 48.54 L392.23 48.59 L392.8 48.52 L393.22 47.99 L393.41 47.25 L393.49 46.46 L393.6 45.85 L393.71 44.67 L393.8 43.61 L393.89 42.86 L393.98 41.72 L394.1 41.44 L394.24 42.01 L394.4 41.9 L394.57 42.51 L394.77 43.08 L395 44.93 L395.06 45.53 L395.12 45.59 L395.18 46.63 L395.25 47.25 L395.32 47.44 L395.38 48.57 L395.45 49.15 L395.52 50.06 L395.59 50.56 L395.67 51.62 L395.74 52.43 L395.82 52.65 L395.9 53.48 L395.98 54.77 L396.06 55.79 L396.15 56 L396.24 56.93 L396.32 57.79 L396.41 58.3 L396.51 59.03 L396.6 59.65 L396.72 60.49 L396.84 61.47 L396.97 62.02 L397.09 62.87 L397.23 63.97 L397.36 64.14 L397.5 65.34 L397.64 66.22 L397.78 66.62 L397.92 67.28 L398.07 68.46 L398.22 68.7 L398.37 69.34 L398.52 70.2 L398.68 71.05 L398.84 71.19 L399 71.96 L399.26 72.84 L399.52 74.07 L399.79 74.55 L400.08 75.62 L400.36 75.78 L400.65 76.59 L400.94 77.47 L401.24 78.27 L401.53 78.49 L401.82 78.86 L402.1 79.3 L402.59 80.48 L403.06 80.94 L403.53 82.05 L404.03 82.62 L404.57 82.58 L405.2 83.12 L405.79 83.91 L406.41 84.1 L407.06 84.51 L407.76 84.39 L408.51 84.43 L409.32 84.76 L410.2 85.34 L410.8 85.02 L411.44 85.16 L412.11 85.29 L412.81 85.35 L413.53 85.39 L414.26 85.84 L415.01 85.27 L415.76 85.19 L416.51 85.97 L417.26 85.96 L418 86.09 L418.77 85.69 L419.59 86.15 L420.45 86.18 L421.33 85.65 L422.21 86.11 L423.06 86.23 L423.87 86.12 L424.62 86.04 L425.29 85.89 L425.86 85.95 L426.3 85.88" fill="none" stroke="#c9183a" stroke-width="1.45" stroke-linejoin="round" stroke-linecap="round"/>
<path d="M385.4 47.2 L385.89 47.56 L386.57 47.34 L387.37 47.7 L388.21 47.17 L389 47.78 L389.8 47.71 L390.65 48 L391.49 48.1 L392.23 48.12 L392.8 47.75 L393.22 46.91 L393.41 46.77 L393.49 45.58 L393.6 44.86 L393.71 44.31 L393.8 43.23 L393.89 42.2 L393.98 41.86 L394.1 41.38 L394.23 41.39 L394.37 41.8 L394.53 42.92 L394.69 43.5 L394.85 44.68 L395 45.4 L395.08 45.87 L395.15 46.74 L395.22 47.6 L395.29 47.85 L395.35 49.02 L395.42 49.87 L395.5 50.57 L395.58 51.38 L395.68 51.62 L395.78 52.87 L395.9 53.85 L396 53.94 L396.11 54.78 L396.22 55.49 L396.33 56.39 L396.46 57.05 L396.58 57.83 L396.71 58.79 L396.85 58.99 L396.99 59.76 L397.14 60.54 L397.3 61.25 L397.46 61.9 L397.62 63.2 L397.8 63.75 L398.03 63.99 L398.28 65.06 L398.54 65.69 L398.81 66.43 L399.09 67.17 L399.38 68.07 L399.68 68.69 L399.98 69.16 L400.28 69.63 L400.59 70.28 L400.9 70.64 L401.46 71.73 L402.02 72.48 L402.59 72.77 L403.2 72.99 L403.87 73.44 L404.6 73.91 L405.19 74.3 L405.81 74.59 L406.46 74.45 L407.14 74.84 L407.86 74.8 L408.6 74.73 L409.38 74.75 L410.2 74.9 L410.82 75.09 L411.48 74.92 L412.16 75.14 L412.85 75 L413.57 74.87 L414.3 75.08 L415.03 75.2 L415.78 74.77 L416.52 75.03 L417.26 75.04 L418 75.37 L418.77 75.42 L419.59 75.04 L420.45 75.42 L421.33 75.35 L422.21 74.99 L423.06 75.14 L423.87 74.91 L424.62 75.4 L425.29 75.3 L425.86 75.47 L426.3 75.4" fill="none" stroke="#134f8a" stroke-width="1.45" stroke-linejoin="round" stroke-linecap="round"/>
<line x1="465.1" y1="36.2" x2="465.1" y2="102.25" stroke="#4a4a4a" stroke-width="1.1"/>
<line x1="464.55" y1="101.7" x2="508.7" y2="101.7" stroke="#4a4a4a" stroke-width="1.1"/>
<line x1="462.6" y1="101.7" x2="465.1" y2="101.7" stroke="#4a4a4a" stroke-width="1.1"/>
<text x="460.3" y="104.2" font-size="7.1" stroke="#222" stroke-width="0.2" text-anchor="end">0</text>
<line x1="462.6" y1="88.6" x2="465.1" y2="88.6" stroke="#4a4a4a" stroke-width="1.1"/>
<text x="460.3" y="91.1" font-size="7.1" stroke="#222" stroke-width="0.2" text-anchor="end">20</text>
<line x1="462.6" y1="75.5" x2="465.1" y2="75.5" stroke="#4a4a4a" stroke-width="1.1"/>
<text x="460.3" y="78" font-size="7.1" stroke="#222" stroke-width="0.2" text-anchor="end">40</text>
<line x1="462.6" y1="62.4" x2="465.1" y2="62.4" stroke="#4a4a4a" stroke-width="1.1"/>
<text x="460.3" y="64.9" font-size="7.1" stroke="#222" stroke-width="0.2" text-anchor="end">60</text>
<line x1="462.6" y1="49.3" x2="465.1" y2="49.3" stroke="#4a4a4a" stroke-width="1.1"/>
<text x="460.3" y="51.8" font-size="7.1" stroke="#222" stroke-width="0.2" text-anchor="end">80</text>
<line x1="462.6" y1="36.2" x2="465.1" y2="36.2" stroke="#4a4a4a" stroke-width="1.1"/>
<text x="460.3" y="38.7" font-size="7.1" stroke="#222" stroke-width="0.2" text-anchor="end">100</text>
<text font-size="6.9" stroke="#222" stroke-width="0.2" text-anchor="middle" transform="translate(443.2 68.8) rotate(-90) scale(0.9799 1)">% aggregation</text>
<rect x="472.1" y="58" width="11.9" height="43.7" fill="#c62035"/>
<rect x="490.7" y="69.5" width="11.9" height="32.2" fill="#0e5285"/>
<line x1="478" y1="52.2" x2="478" y2="61" stroke="#222" stroke-width="0.8"/>
<line x1="476.6" y1="52.2" x2="479.4" y2="52.2" stroke="#222" stroke-width="0.8"/>
<line x1="496.6" y1="65.4" x2="496.6" y2="72" stroke="#222" stroke-width="0.8"/>
<line x1="495.2" y1="65.4" x2="498" y2="65.4" stroke="#222" stroke-width="0.8"/>
<circle cx="477.9" cy="50.5" r="1.35" fill="#111"/>
<circle cx="475.9" cy="57.6" r="1.35" fill="#111"/>
<circle cx="479.5" cy="59.6" r="1.35" fill="#111"/>
<circle cx="477.9" cy="60.9" r="1.35" fill="#111"/>
<circle cx="494.9" cy="65.4" r="1.35" fill="#111"/>
<circle cx="498.5" cy="64.6" r="1.35" fill="#111"/>
<circle cx="496.5" cy="73.6" r="1.35" fill="#111"/>
<line x1="476.2" y1="38.5" x2="502.6" y2="38.5" stroke="#666" stroke-width="0.9"/>
<text font-size="7" stroke="#444" stroke-width="0.2" fill="#444" transform="translate(477 36) scale(0.9728 1)">p = 0.03</text>
<text transform="translate(479.6 110) rotate(-45) scale(0.98 1)" font-size="7.4" text-anchor="end" fill="#2a2a2a" stroke="#2a2a2a" stroke-width="0.08">Vlk<tspan font-size="5" dy="-2.8">f/f</tspan></text>
<text transform="translate(498 109) rotate(-45) scale(0.8771 1)" font-size="7.4" text-anchor="end" fill="#2a2a2a" stroke="#2a2a2a" stroke-width="0.08">Vlk-cKO</text>
<text x="67" y="137.5" font-size="11.5" stroke="#111" stroke-width="0.2" fill="#111" font-weight="bold">D</text>
<line x1="106.7" y1="145.8" x2="106.7" y2="235.9" stroke="#444" stroke-width="1"/>
<line x1="106.2" y1="235.4" x2="243" y2="235.4" stroke="#444" stroke-width="1"/>
<line x1="104.3" y1="235.4" x2="106.7" y2="235.4" stroke="#444" stroke-width="1"/>
<text x="100.6" y="237.8" font-size="6.9" stroke="#3a3a3a" stroke-width="0.2" text-anchor="end" fill="#3a3a3a">0</text>
<line x1="104.3" y1="213" x2="106.7" y2="213" stroke="#444" stroke-width="1"/>
<text x="100.6" y="215.4" font-size="6.9" stroke="#3a3a3a" stroke-width="0.2" text-anchor="end" fill="#3a3a3a">2</text>
<line x1="104.3" y1="190.6" x2="106.7" y2="190.6" stroke="#444" stroke-width="1"/>
<text x="100.6" y="193" font-size="6.9" stroke="#3a3a3a" stroke-width="0.2" text-anchor="end" fill="#3a3a3a">4</text>
<line x1="104.3" y1="168.2" x2="106.7" y2="168.2" stroke="#444" stroke-width="1"/>
<text x="100.6" y="170.6" font-size="6.9" stroke="#3a3a3a" stroke-width="0.2" text-anchor="end" fill="#3a3a3a">6</text>
<line x1="104.3" y1="145.8" x2="106.7" y2="145.8" stroke="#444" stroke-width="1"/>
<text x="100.6" y="148.2" font-size="6.9" stroke="#3a3a3a" stroke-width="0.2" text-anchor="end" fill="#3a3a3a">8</text>
<line x1="106.7" y1="235.4" x2="106.7" y2="237.6" stroke="#444" stroke-width="1"/>
<text x="106.7" y="246.1" font-size="6.9" stroke="#3a3a3a" stroke-width="0.2" text-anchor="middle" fill="#3a3a3a">0</text>
<line x1="151.8" y1="235.4" x2="151.8" y2="237.6" stroke="#444" stroke-width="1"/>
<text x="151.8" y="246.1" font-size="6.9" stroke="#3a3a3a" stroke-width="0.2" text-anchor="middle" fill="#3a3a3a">50</text>
<line x1="196.9" y1="235.4" x2="196.9" y2="237.6" stroke="#444" stroke-width="1"/>
<text x="196.9" y="246.1" font-size="6.9" stroke="#3a3a3a" stroke-width="0.2" text-anchor="middle" fill="#3a3a3a">100</text>
<line x1="242" y1="235.4" x2="242" y2="237.6" stroke="#444" stroke-width="1"/>
<text x="242" y="246.1" font-size="6.9" stroke="#3a3a3a" stroke-width="0.2" text-anchor="middle" fill="#3a3a3a">150</text>
<text font-size="8.7" stroke="#3a3a3a" stroke-width="0.2" text-anchor="middle" fill="#3a3a3a" transform="translate(174.3 258.2) scale(0.7185 1)">AYPGKF (μM)</text>
<text font-size="8.6" stroke="#444" stroke-width="0.2" text-anchor="middle" fill="#444" transform="translate(76.3 190.1) rotate(-90) scale(0.7523 1)">P-selectin surface expression</text>
<text font-size="8.6" stroke="#444" stroke-width="0.2" text-anchor="middle" fill="#444" transform="translate(86.8 191.2) rotate(-90) scale(0.7690 1)">(percent of control)</text>
<line x1="242" y1="150.9" x2="242" y2="170.3" stroke="#333" stroke-width="0.8"/>
<line x1="240.6" y1="150.9" x2="243.4" y2="150.9" stroke="#333" stroke-width="0.8"/>
<line x1="240.6" y1="170.3" x2="243.4" y2="170.3" stroke="#333" stroke-width="0.8"/>
<line x1="195.7" y1="193.6" x2="198.1" y2="193.6" stroke="#333" stroke-width="0.7"/>
<line x1="195.7" y1="197.2" x2="198.1" y2="197.2" stroke="#333" stroke-width="0.7"/>
<polyline points="106.7,224.76 174.35,171.22 196.9,164.06 242,160.58" fill="none" stroke="#c62035" stroke-width="1.3"/>
<polyline points="106.7,226.44 174.35,221.29 196.9,195.42 242,166.41" fill="none" stroke="#0e5285" stroke-width="1.3"/>
<circle cx="106.7" cy="224.76" r="1.65" fill="#c62035"/>
<circle cx="174.35" cy="171.22" r="1.65" fill="#c62035"/>
<circle cx="196.9" cy="164.06" r="1.65" fill="#c62035"/>
<circle cx="242" cy="160.58" r="1.65" fill="#c62035"/>
<rect x="105.1" y="224.84" width="3.2" height="3.2" fill="#0e5285"/>
<rect x="172.75" y="219.69" width="3.2" height="3.2" fill="#0e5285"/>
<rect x="195.3" y="193.82" width="3.2" height="3.2" fill="#0e5285"/>
<rect x="240.4" y="164.81" width="3.2" height="3.2" fill="#0e5285"/>
<line x1="113.1" y1="151.4" x2="123.6" y2="151.4" stroke="#c62035" stroke-width="1.2"/>
<circle cx="118.4" cy="151.4" r="1.6" fill="#c62035"/>
<line x1="113.1" y1="161.8" x2="123.6" y2="161.8" stroke="#0e5285" stroke-width="1.2"/>
<rect x="116.8" y="160.2" width="3.2" height="3.2" fill="#0e5285"/>
<text x="126.6" y="154.2" font-size="7" fill="#3a3a3a" stroke="#3a3a3a" stroke-width="0.15">Vlk<tspan font-size="4.6" dy="-2.2">f/f</tspan></text>
<text font-size="7" stroke="#3a3a3a" stroke-width="0.2" fill="#3a3a3a" transform="translate(126.6 164.4) scale(0.8774 1)">VLK-cKO</text>
<text x="288" y="151.9" font-size="11.5" stroke="#111" stroke-width="0.2" fill="#111" font-weight="bold">E</text>
<text font-size="7" stroke="#222" stroke-width="0.2" text-anchor="middle" transform="translate(353.8 150.6) scale(0.8904 1)">Lys.</text>
<text font-size="7" stroke="#222" stroke-width="0.2" text-anchor="middle" transform="translate(394 150.6) scale(0.9584 1)">Sup.</text>
<line x1="334.3" y1="152.4" x2="373.3" y2="152.4" stroke="#666" stroke-width="0.9"/>
<line x1="375.3" y1="152.4" x2="414.4" y2="152.4" stroke="#666" stroke-width="0.9"/>
<text font-size="7" stroke="#222" stroke-width="0.2" text-anchor="middle" transform="translate(343.3 163.5) scale(0.9150 1)">CTL</text>
<text font-size="7" stroke="#222" stroke-width="0.2" text-anchor="middle" transform="translate(364.2 163.5) scale(0.9549 1)">cKO</text>
<text font-size="7" stroke="#222" stroke-width="0.2" text-anchor="middle" transform="translate(384.7 163.5) scale(0.8924 1)">CTL</text>
<text font-size="7" stroke="#222" stroke-width="0.2" text-anchor="middle" transform="translate(405.1 163.5) scale(0.9108 1)">cKO</text>
<line x1="334.3" y1="166.6" x2="352.5" y2="166.6" stroke="#666" stroke-width="0.9"/>
<line x1="355.1" y1="166.6" x2="373.3" y2="166.6" stroke="#666" stroke-width="0.9"/>
<line x1="375.3" y1="166.6" x2="393.7" y2="166.6" stroke="#666" stroke-width="0.9"/>
<line x1="396.1" y1="166.6" x2="414.4" y2="166.6" stroke="#666" stroke-width="0.9"/>
<text font-size="7" stroke="#222" stroke-width="0.2" text-anchor="end" transform="translate(330.1 177.1) scale(0.9685 1)">AYPGKF</text>
<text x="338" y="176.8" font-size="6.5" stroke="#555" stroke-width="0.2" text-anchor="middle" fill="#555">–</text>
<text x="348.4" y="176.8" font-size="6.5" stroke="#555" stroke-width="0.2" text-anchor="middle" fill="#555">+</text>
<text x="358.8" y="176.8" font-size="6.5" stroke="#555" stroke-width="0.2" text-anchor="middle" fill="#555">–</text>
<text x="369.2" y="176.8" font-size="6.5" stroke="#555" stroke-width="0.2" text-anchor="middle" fill="#555">+</text>
<text x="379.7" y="176.8" font-size="6.5" stroke="#555" stroke-width="0.2" text-anchor="middle" fill="#555">–</text>
<text x="390.1" y="176.8" font-size="6.5" stroke="#555" stroke-width="0.2" text-anchor="middle" fill="#555">+</text>
<text x="400.5" y="176.8" font-size="6.5" stroke="#555" stroke-width="0.2" text-anchor="middle" fill="#555">–</text>
<text x="410.9" y="176.8" font-size="6.5" stroke="#555" stroke-width="0.2" text-anchor="middle" fill="#555">+</text>
<text font-size="7" stroke="#222" stroke-width="0.2" text-anchor="end" transform="translate(328.9 197.3) scale(1.0187 1)">Anti Tsp1</text>
<text font-size="7" stroke="#222" stroke-width="0.2" text-anchor="end" transform="translate(328.9 217.6) scale(0.9831 1)">Anti Pf4</text>
<text font-size="7" stroke="#222" stroke-width="0.2" text-anchor="end" transform="translate(328.9 237.8) scale(0.9974 1)">Anti GAPDH</text>
<text x="26.4" y="277.7" font-size="11.5" stroke="#111" stroke-width="0.2" fill="#111" font-weight="bold">F</text>
<line x1="55.8" y1="291.5" x2="119.4" y2="291.5" stroke="#4a4a4a" stroke-width="1.1"/>
<line x1="55.8" y1="291" x2="55.8" y2="353.5" stroke="#4a4a4a" stroke-width="1.1"/>
<line x1="119.4" y1="291" x2="119.4" y2="353.5" stroke="#4a4a4a" stroke-width="1.1"/>
<line x1="55.8" y1="291.5" x2="55.8" y2="289.5" stroke="#4a4a4a" stroke-width="1.1"/>
<text x="55.2" y="288.1" font-size="6.9" stroke="#222" stroke-width="0.2" text-anchor="middle">−30</text>
<line x1="71.7" y1="291.5" x2="71.7" y2="289.5" stroke="#4a4a4a" stroke-width="1.1"/>
<text x="71.7" y="288.1" font-size="6.9" stroke="#222" stroke-width="0.2" text-anchor="middle">60</text>
<line x1="87.6" y1="291.5" x2="87.6" y2="289.5" stroke="#4a4a4a" stroke-width="1.1"/>
<text x="87.6" y="288.1" font-size="6.9" stroke="#222" stroke-width="0.2" text-anchor="middle">150</text>
<line x1="103.5" y1="291.5" x2="103.5" y2="289.5" stroke="#4a4a4a" stroke-width="1.1"/>
<text x="103.4" y="288.1" font-size="6.9" stroke="#222" stroke-width="0.2" text-anchor="middle">240</text>
<line x1="119.4" y1="291.5" x2="119.4" y2="289.5" stroke="#4a4a4a" stroke-width="1.1"/>
<text x="119.4" y="288.1" font-size="6.9" stroke="#222" stroke-width="0.2" text-anchor="middle">330</text>
<line x1="53.6" y1="291.5" x2="55.8" y2="291.5" stroke="#4a4a4a" stroke-width="1.1"/>
<text x="52.4" y="293.9" font-size="6.9" stroke="#222" stroke-width="0.2" text-anchor="end">−10</text>
<line x1="53.6" y1="301.9" x2="55.8" y2="301.9" stroke="#4a4a4a" stroke-width="1.1"/>
<text x="52.4" y="304.3" font-size="6.9" stroke="#222" stroke-width="0.2" text-anchor="end">10</text>
<line x1="53.6" y1="312.3" x2="55.8" y2="312.3" stroke="#4a4a4a" stroke-width="1.1"/>
<text x="52.4" y="314.7" font-size="6.9" stroke="#222" stroke-width="0.2" text-anchor="end">30</text>
<line x1="53.6" y1="322.7" x2="55.8" y2="322.7" stroke="#4a4a4a" stroke-width="1.1"/>
<text x="52.4" y="325.1" font-size="6.9" stroke="#222" stroke-width="0.2" text-anchor="end">50</text>
<line x1="53.6" y1="333.1" x2="55.8" y2="333.1" stroke="#4a4a4a" stroke-width="1.1"/>
<text x="52.4" y="335.5" font-size="6.9" stroke="#222" stroke-width="0.2" text-anchor="end">70</text>
<line x1="53.6" y1="343.5" x2="55.8" y2="343.5" stroke="#4a4a4a" stroke-width="1.1"/>
<text x="52.4" y="345.9" font-size="6.9" stroke="#222" stroke-width="0.2" text-anchor="end">90</text>
<line x1="119.4" y1="348.4" x2="121.6" y2="348.4" stroke="#4a4a4a" stroke-width="1.1"/>
<text x="122.4" y="350.8" font-size="6.9" stroke="#222" stroke-width="0.2">0</text>
<line x1="119.4" y1="338.1" x2="121.6" y2="338.1" stroke="#4a4a4a" stroke-width="1.1"/>
<text x="122.4" y="340.5" font-size="6.9" stroke="#222" stroke-width="0.2">20</text>
<line x1="119.4" y1="327.8" x2="121.6" y2="327.8" stroke="#4a4a4a" stroke-width="1.1"/>
<text x="122.4" y="330.2" font-size="6.9" stroke="#222" stroke-width="0.2">40</text>
<line x1="119.4" y1="317.5" x2="121.6" y2="317.5" stroke="#4a4a4a" stroke-width="1.1"/>
<text x="122.4" y="319.9" font-size="6.9" stroke="#222" stroke-width="0.2">60</text>
<line x1="119.4" y1="307.2" x2="121.6" y2="307.2" stroke="#4a4a4a" stroke-width="1.1"/>
<text x="122.4" y="309.6" font-size="6.9" stroke="#222" stroke-width="0.2">80</text>
<line x1="119.4" y1="296.9" x2="121.6" y2="296.9" stroke="#4a4a4a" stroke-width="1.1"/>
<text x="122.4" y="299.3" font-size="6.9" stroke="#222" stroke-width="0.2">100</text>
<text font-size="8" stroke="#222" stroke-width="0.2" text-anchor="middle" transform="translate(87.6 276.2) scale(0.8581 1)">Time</text>
<text font-size="8.4" stroke="#222" stroke-width="0.2" text-anchor="middle" transform="translate(32.6 322.95) rotate(-90) scale(0.7939 1)">% light transmission</text>
<text font-size="7.6" stroke="#d4303f" stroke-width="0.2" text-anchor="middle" fill="#d4303f" transform="translate(138.9 322.8) rotate(-90) scale(0.8951 1)">ATP release</text>
<text x="88.3" y="306.9" font-size="6.9" font-weight="bold" font-style="italic" fill="#111" stroke="#111" stroke-width="0.1">Vlk<tspan font-size="4.8" dy="-2.7" font-weight="normal">f/f</tspan></text>
<path d="M55.9 348.8 L56.17 348.53 L56.55 348.15 L57.01 347.74 L57.5 347.4 L57.92 347.19 L58.37 347.01 L58.85 346.86 L59.36 346.72 L59.9 346.6 L60.38 346.52 L60.9 346.46 L61.44 346.41 L61.99 346.37 L62.51 346.34 L63 346.3 L63.56 346.26 L64.11 346.25 L64.63 346.23 L65.1 346.18 L65.5 346.1 L66.16 345.96 L66.6 345.2 L66.68 344.87 L66.76 344.5 L66.83 344.08 L66.89 343.61 L66.96 343.11 L67.02 342.56 L67.08 341.97 L67.15 341.35 L67.22 340.69 L67.3 340 L67.35 339.6 L67.4 339.18 L67.45 338.75 L67.5 338.31 L67.55 337.86 L67.6 337.39 L67.65 336.91 L67.71 336.43 L67.76 335.93 L67.82 335.41 L67.88 334.89 L67.93 334.36 L67.99 333.82 L68.05 333.27 L68.11 332.72 L68.17 332.15 L68.24 331.58 L68.3 331 L68.35 330.55 L68.4 330.09 L68.45 329.61 L68.5 329.12 L68.56 328.62 L68.61 328.11 L68.67 327.58 L68.72 327.06 L68.78 326.52 L68.84 325.98 L68.89 325.45 L68.95 324.91 L69.01 324.37 L69.06 323.83 L69.12 323.3 L69.18 322.78 L69.23 322.26 L69.29 321.75 L69.34 321.26 L69.4 320.77 L69.45 320.31 L69.5 319.85 L69.55 319.42 L69.6 319 L69.68 318.36 L69.75 317.74 L69.82 317.14 L69.89 316.56 L69.96 316 L70.03 315.46 L70.09 314.95 L70.16 314.45 L70.22 313.97 L70.29 313.51 L70.35 313.07 L70.41 312.65 L70.47 312.25 L70.54 311.86 L70.6 311.5 L70.76 310.69 L70.91 310.03 L71.06 309.49 L71.2 309.05 L71.35 308.69 L71.5 308.4 L71.94 308.05 L72.4 308.3 L72.73 308.71 L73.06 309.31 L73.4 310 L73.58 310.4 L73.75 310.79 L73.92 311.23 L74.13 311.75 L74.4 312.4 L74.56 312.79 L74.73 313.22 L74.91 313.68 L75.1 314.18 L75.31 314.69 L75.52 315.21 L75.75 315.74 L75.99 316.27 L76.24 316.79 L76.5 317.3 L76.75 317.75 L77.01 318.19 L77.27 318.64 L77.54 319.08 L77.83 319.53 L78.12 319.97 L78.43 320.43 L78.75 320.88 L79.09 321.35 L79.44 321.82 L79.8 322.3 L80.08 322.66 L80.37 323.03 L80.68 323.4 L80.99 323.77 L81.31 324.15 L81.64 324.53 L81.97 324.92 L82.31 325.31 L82.66 325.69 L83 326.08 L83.34 326.47 L83.69 326.86 L84.03 327.24 L84.37 327.62 L84.7 328 L85.03 328.38 L85.36 328.76 L85.7 329.14 L86.03 329.52 L86.36 329.9 L86.7 330.28 L87.03 330.65 L87.37 331.03 L87.7 331.41 L88.04 331.78 L88.37 332.15 L88.7 332.52 L89.04 332.88 L89.37 333.24 L89.7 333.6 L90.05 333.98 L90.41 334.36 L90.76 334.74 L91.11 335.12 L91.46 335.5 L91.81 335.88 L92.16 336.25 L92.51 336.61 L92.85 336.97 L93.2 337.32 L93.55 337.66 L93.9 337.99 L94.25 338.3 L94.6 338.6 L95.05 338.96 L95.49 339.3 L95.94 339.62 L96.39 339.93 L96.84 340.22 L97.29 340.5 L97.74 340.77 L98.19 341.03 L98.63 341.29 L99.07 341.55 L99.5 341.8 L99.97 342.08 L100.44 342.34 L100.9 342.6 L101.36 342.85 L101.81 343.09 L102.27 343.33 L102.72 343.56 L103.18 343.78 L103.64 343.99 L104.1 344.2 L104.64 344.43 L105.23 344.66 L105.83 344.88 L106.44 345.1 L107.03 345.3 L107.58 345.49 L108.07 345.65 L108.48 345.79 L108.8 345.9" fill="none" stroke="#d4344a" stroke-width="1.1" stroke-linejoin="round" stroke-linecap="round"/>
<path d="M55.9 298 L56.39 298.07 L57.12 298.02 L58 297.76 L58.64 298.08 L59.39 297.79 L60.16 297.9 L60.89 298.23 L61.5 297.63 L62.06 297.21 L62.48 296.58 L62.84 296.36 L63.2 295.31 L63.68 294.38 L64.13 294.06 L64.6 293.17 L65.37 293.78 L66.2 294.5 L66.55 295.07 L66.91 295.71 L67.29 296.14 L67.68 297 L68.1 297.32 L68.41 298.36 L68.72 298.83 L69.04 299.62 L69.37 299.96 L69.72 301.08 L70.1 301.96 L70.5 302.24 L70.81 302.99 L71.14 303.76 L71.49 304.58 L71.85 304.91 L72.22 305.56 L72.59 306.29 L72.96 307.2 L73.32 307.96 L73.67 308.41 L74 309.02 L74.35 309.72 L74.7 310.37 L75.04 311.09 L75.37 311.55 L75.7 312.45 L76.01 313.36 L76.32 313.63 L76.62 314.4 L76.9 314.6 L77.28 315.66 L77.61 316.36 L77.93 316.93 L78.24 317.42 L78.59 317.98 L79 318.69 L79.39 319.38 L79.81 319.47 L80.25 319.97 L80.71 320.9 L81.21 321.52 L81.73 321.8 L82.3 322.27 L82.83 322.87 L83.39 322.97 L83.98 323.44 L84.59 323.82 L85.23 324.46 L85.87 324.7 L86.53 325.05 L87.2 325.71 L87.8 326.21 L88.41 326.16 L89.02 326.74 L89.65 326.89 L90.29 327.48 L90.94 327.64 L91.61 327.76 L92.3 328.03 L93 328.21 L93.65 328.75 L94.31 328.95 L94.98 329.08 L95.67 329.44 L96.36 329.66 L97.07 330.16 L97.79 330.02 L98.52 330.75 L99.25 330.67 L100 330.96 L100.69 331.07 L101.39 331.48 L102.1 331.66 L102.81 331.68 L103.54 331.81 L104.27 332.12 L105.01 332.37 L105.76 332.26 L106.5 332.63 L107.25 332.92 L108 332.78 L108.72 332.78 L109.49 332.93 L110.29 333.37 L111.11 333.49 L111.94 333.8 L112.75 333.88 L113.54 333.65 L114.28 333.74 L114.96 333.9 L115.57 333.95 L116.09 334.35 L116.5 334.52" fill="none" stroke="#1a4f8c" stroke-width="1.5" stroke-linejoin="round" stroke-linecap="round"/>
<line x1="177.4" y1="291.3" x2="239.5" y2="291.3" stroke="#4a4a4a" stroke-width="1.1"/>
<line x1="177.4" y1="290.8" x2="177.4" y2="356.5" stroke="#4a4a4a" stroke-width="1.1"/>
<line x1="239.5" y1="290.8" x2="239.5" y2="354.3" stroke="#4a4a4a" stroke-width="1.1"/>
<line x1="177.4" y1="291.3" x2="177.4" y2="289.3" stroke="#4a4a4a" stroke-width="1.1"/>
<text x="177" y="288.1" font-size="6.9" stroke="#222" stroke-width="0.2" text-anchor="middle">−30</text>
<line x1="192.93" y1="291.3" x2="192.93" y2="289.3" stroke="#4a4a4a" stroke-width="1.1"/>
<text x="192.1" y="288.1" font-size="6.9" stroke="#222" stroke-width="0.2" text-anchor="middle">60</text>
<line x1="208.45" y1="291.3" x2="208.45" y2="289.3" stroke="#4a4a4a" stroke-width="1.1"/>
<text x="207.1" y="288.1" font-size="6.9" stroke="#222" stroke-width="0.2" text-anchor="middle">150</text>
<line x1="223.97" y1="291.3" x2="223.97" y2="289.3" stroke="#4a4a4a" stroke-width="1.1"/>
<text x="222.5" y="288.1" font-size="6.9" stroke="#222" stroke-width="0.2" text-anchor="middle">240</text>
<line x1="239.5" y1="291.3" x2="239.5" y2="289.3" stroke="#4a4a4a" stroke-width="1.1"/>
<text x="237.6" y="288.1" font-size="6.9" stroke="#222" stroke-width="0.2" text-anchor="middle">330</text>
<line x1="175.2" y1="291.3" x2="177.4" y2="291.3" stroke="#4a4a4a" stroke-width="1.1"/>
<text x="174" y="293.7" font-size="6.9" stroke="#222" stroke-width="0.2" text-anchor="end">−10</text>
<line x1="175.2" y1="302.08" x2="177.4" y2="302.08" stroke="#4a4a4a" stroke-width="1.1"/>
<text x="174" y="304.48" font-size="6.9" stroke="#222" stroke-width="0.2" text-anchor="end">10</text>
<line x1="175.2" y1="312.86" x2="177.4" y2="312.86" stroke="#4a4a4a" stroke-width="1.1"/>
<text x="174" y="315.26" font-size="6.9" stroke="#222" stroke-width="0.2" text-anchor="end">30</text>
<line x1="175.2" y1="323.64" x2="177.4" y2="323.64" stroke="#4a4a4a" stroke-width="1.1"/>
<text x="174" y="326.04" font-size="6.9" stroke="#222" stroke-width="0.2" text-anchor="end">50</text>
<line x1="175.2" y1="334.42" x2="177.4" y2="334.42" stroke="#4a4a4a" stroke-width="1.1"/>
<text x="174" y="336.82" font-size="6.9" stroke="#222" stroke-width="0.2" text-anchor="end">70</text>
<line x1="175.2" y1="345.2" x2="177.4" y2="345.2" stroke="#4a4a4a" stroke-width="1.1"/>
<text x="174" y="347.6" font-size="6.9" stroke="#222" stroke-width="0.2" text-anchor="end">90</text>
<line x1="239.5" y1="349.3" x2="241.7" y2="349.3" stroke="#4a4a4a" stroke-width="1.1"/>
<text x="244.8" y="351.7" font-size="6.9" stroke="#222" stroke-width="0.2">0</text>
<line x1="239.5" y1="339" x2="241.7" y2="339" stroke="#4a4a4a" stroke-width="1.1"/>
<text x="244.8" y="341.4" font-size="6.9" stroke="#222" stroke-width="0.2">20</text>
<line x1="239.5" y1="328.7" x2="241.7" y2="328.7" stroke="#4a4a4a" stroke-width="1.1"/>
<text x="244.8" y="331.1" font-size="6.9" stroke="#222" stroke-width="0.2">40</text>
<line x1="239.5" y1="318.4" x2="241.7" y2="318.4" stroke="#4a4a4a" stroke-width="1.1"/>
<text x="244.8" y="320.8" font-size="6.9" stroke="#222" stroke-width="0.2">60</text>
<line x1="239.5" y1="308.1" x2="241.7" y2="308.1" stroke="#4a4a4a" stroke-width="1.1"/>
<text x="244.8" y="310.5" font-size="6.9" stroke="#222" stroke-width="0.2">80</text>
<line x1="239.5" y1="297.8" x2="241.7" y2="297.8" stroke="#4a4a4a" stroke-width="1.1"/>
<text x="244.8" y="300.2" font-size="6.9" stroke="#222" stroke-width="0.2">100</text>
<text font-size="8" stroke="#222" stroke-width="0.2" text-anchor="middle" transform="translate(208.2 276.2) scale(0.8581 1)">Time</text>
<text font-size="8.4" stroke="#222" stroke-width="0.2" text-anchor="middle" transform="translate(159.8 322.95) rotate(-90) scale(0.7939 1)">% light transmission</text>
<text font-size="7.6" stroke="#d4303f" stroke-width="0.2" text-anchor="middle" fill="#d4303f" transform="translate(261.6 322.8) rotate(-90) scale(0.8951 1)">ATP release</text>
<text font-size="7" stroke="#111" stroke-width="0.2" text-anchor="middle" fill="#111" font-weight="bold" font-style="italic" transform="translate(210.9 312) scale(0.8630 1)">Vlk-cKO</text>
<path d="M177.5 348.4 L177.76 348.4 L178.05 348.41 L178.36 348.41 L178.7 348.41 L179.05 348.42 L179.43 348.42 L179.83 348.42 L180.25 348.43 L180.68 348.43 L181.13 348.44 L181.6 348.44 L182.08 348.45 L182.58 348.46 L183.09 348.46 L183.61 348.47 L184.14 348.47 L184.69 348.48 L185.24 348.48 L185.8 348.49 L186.37 348.5 L186.94 348.5 L187.52 348.51 L188.1 348.52 L188.69 348.52 L189.28 348.53 L189.87 348.53 L190.46 348.54 L191.05 348.54 L191.64 348.55 L192.22 348.56 L192.8 348.56 L193.38 348.57 L193.95 348.57 L194.52 348.57 L195.07 348.58 L195.62 348.58 L196.16 348.59 L196.69 348.59 L197.2 348.59 L197.71 348.59 L198.2 348.6 L198.67 348.6 L199.13 348.6 L199.57 348.6 L200 348.6 L200.62 348.6 L201.22 348.6 L201.8 348.59 L202.37 348.59 L202.92 348.59 L203.46 348.58 L203.99 348.57 L204.5 348.56 L205.01 348.56 L205.51 348.55 L206 348.54 L206.48 348.53 L206.95 348.52 L207.42 348.51 L207.89 348.5 L208.35 348.49 L208.81 348.48 L209.27 348.47 L209.72 348.46 L210.18 348.45 L210.64 348.44 L211.1 348.44 L211.57 348.43 L212.04 348.42 L212.51 348.41 L212.99 348.41 L213.48 348.41 L213.98 348.4 L214.48 348.4 L215 348.4 L215.5 348.4 L216.01 348.4 L216.54 348.4 L217.09 348.41 L217.64 348.41 L218.21 348.42 L218.78 348.42 L219.37 348.43 L219.95 348.43 L220.54 348.44 L221.14 348.45 L221.73 348.45 L222.33 348.46 L222.92 348.47 L223.51 348.48 L224.09 348.49 L224.66 348.5 L225.23 348.5 L225.78 348.51 L226.32 348.52 L226.85 348.53 L227.37 348.54 L227.86 348.55 L228.34 348.55 L228.8 348.56 L229.23 348.57 L229.65 348.58 L230.03 348.58 L230.39 348.59 L230.73 348.59 L231.03 348.6 L231.3 348.6" fill="none" stroke="#d63f56" stroke-width="1" stroke-linejoin="round" stroke-linecap="round"/>
<path d="M177.5 298.1 L177.85 298.12 L178.35 298.18 L178.95 298.24 L179.58 298.28 L180.2 298.29 L180.76 298.24 L181.2 298.1 L181.63 297.74 L181.93 297.24 L182.15 296.65 L182.36 296.05 L182.6 295.5 L182.87 294.96 L183.13 294.38 L183.4 293.83 L183.68 293.38 L184 293.1 L184.41 293.02 L184.84 293.16 L185.35 293.45 L186 293.8 L186.35 293.98 L186.73 294.19 L187.13 294.43 L187.56 294.68 L188.02 294.95 L188.49 295.22 L188.98 295.49 L189.48 295.75 L190 296 L190.44 296.2 L190.89 296.4 L191.37 296.6 L191.85 296.8 L192.35 297 L192.85 297.19 L193.36 297.38 L193.87 297.57 L194.39 297.76 L194.9 297.93 L195.4 298.1 L195.9 298.26 L196.4 298.42 L196.9 298.57 L197.4 298.72 L197.91 298.86 L198.42 299 L198.93 299.13 L199.44 299.26 L199.95 299.38 L200.48 299.49 L201 299.6 L201.49 299.69 L201.98 299.78 L202.48 299.86 L202.98 299.94 L203.48 300.01 L203.99 300.08 L204.49 300.14 L205 300.2 L205.5 300.26 L206.01 300.31 L206.51 300.36 L207 300.4 L207.54 300.44 L208.07 300.48 L208.6 300.51 L209.13 300.53 L209.66 300.55 L210.18 300.57 L210.71 300.58 L211.23 300.59 L211.75 300.6 L212.28 300.6 L212.8 300.6 L213.31 300.6 L213.79 300.59 L214.26 300.59 L214.72 300.57 L215.18 300.56 L215.66 300.54 L216.15 300.52 L216.67 300.49 L217.23 300.47 L217.84 300.43 L218.5 300.4 L218.91 300.38 L219.34 300.35 L219.78 300.33 L220.24 300.3 L220.71 300.27 L221.2 300.24 L221.69 300.21 L222.2 300.18 L222.71 300.15 L223.23 300.11 L223.76 300.08 L224.29 300.05 L224.82 300.01 L225.35 299.98 L225.89 299.94 L226.42 299.9 L226.95 299.87 L227.48 299.83 L228 299.8 L228.51 299.77 L229.04 299.73 L229.59 299.69 L230.16 299.66 L230.74 299.62 L231.33 299.58 L231.92 299.53 L232.52 299.49 L233.11 299.45 L233.69 299.41 L234.27 299.37 L234.82 299.33 L235.36 299.3 L235.87 299.26 L236.35 299.23 L236.8 299.2 L237.22 299.17 L237.59 299.14 L237.92 299.12 L238.2 299.1" fill="none" stroke="#2c69a4" stroke-width="1.2" stroke-linejoin="round" stroke-linecap="round"/>
<text x="295" y="281.2" font-size="11.5" stroke="#111" stroke-width="0.2" fill="#111" font-weight="bold">G</text>
<line x1="321.3" y1="295.5" x2="383.8" y2="295.5" stroke="#4a4a4a" stroke-width="1.1"/>
<line x1="321.3" y1="295" x2="321.3" y2="360.7" stroke="#4a4a4a" stroke-width="1.1"/>
<line x1="321.3" y1="295.5" x2="321.3" y2="293.5" stroke="#4a4a4a" stroke-width="1.1"/>
<text x="321.4" y="290.6" font-size="6.9" stroke="#222" stroke-width="0.2" text-anchor="middle">−30</text>
<line x1="336.93" y1="295.5" x2="336.93" y2="293.5" stroke="#4a4a4a" stroke-width="1.1"/>
<text x="337" y="290.6" font-size="6.9" stroke="#222" stroke-width="0.2" text-anchor="middle">60</text>
<line x1="352.55" y1="295.5" x2="352.55" y2="293.5" stroke="#4a4a4a" stroke-width="1.1"/>
<text x="352.6" y="290.6" font-size="6.9" stroke="#222" stroke-width="0.2" text-anchor="middle">150</text>
<line x1="368.18" y1="295.5" x2="368.18" y2="293.5" stroke="#4a4a4a" stroke-width="1.1"/>
<text x="368.2" y="290.6" font-size="6.9" stroke="#222" stroke-width="0.2" text-anchor="middle">240</text>
<line x1="383.8" y1="295.5" x2="383.8" y2="293.5" stroke="#4a4a4a" stroke-width="1.1"/>
<text x="383.8" y="290.6" font-size="6.9" stroke="#222" stroke-width="0.2" text-anchor="middle">330</text>
<line x1="319.1" y1="295.5" x2="321.3" y2="295.5" stroke="#4a4a4a" stroke-width="1.1"/>
<text x="317.5" y="297.9" font-size="6.9" stroke="#222" stroke-width="0.2" text-anchor="end">−10</text>
<line x1="319.1" y1="306.3" x2="321.3" y2="306.3" stroke="#4a4a4a" stroke-width="1.1"/>
<text x="317.5" y="308.7" font-size="6.9" stroke="#222" stroke-width="0.2" text-anchor="end">10</text>
<line x1="319.1" y1="317.1" x2="321.3" y2="317.1" stroke="#4a4a4a" stroke-width="1.1"/>
<text x="317.5" y="319.5" font-size="6.9" stroke="#222" stroke-width="0.2" text-anchor="end">30</text>
<line x1="319.1" y1="327.9" x2="321.3" y2="327.9" stroke="#4a4a4a" stroke-width="1.1"/>
<text x="317.5" y="330.3" font-size="6.9" stroke="#222" stroke-width="0.2" text-anchor="end">50</text>
<line x1="319.1" y1="338.7" x2="321.3" y2="338.7" stroke="#4a4a4a" stroke-width="1.1"/>
<text x="317.5" y="341.1" font-size="6.9" stroke="#222" stroke-width="0.2" text-anchor="end">70</text>
<line x1="319.1" y1="349.5" x2="321.3" y2="349.5" stroke="#4a4a4a" stroke-width="1.1"/>
<text x="317.5" y="351.9" font-size="6.9" stroke="#222" stroke-width="0.2" text-anchor="end">90</text>
<text font-size="8" stroke="#222" stroke-width="0.2" text-anchor="middle" transform="translate(352.5 280.1) scale(0.8924 1)">Time</text>
<text font-size="8.4" stroke="#222" stroke-width="0.2" text-anchor="middle" transform="translate(302.1 328.85) rotate(-90) scale(0.8006 1)">% light transmission</text>
<text x="357.6" y="309.0" font-size="7" font-style="italic" stroke="#222" stroke-width="0.2">Vlk<tspan font-size="4.6" dy="-2.7">f/f</tspan></text>
<path d="M321.5 301.52 L322.14 301.48 L323 301.91 L323.83 302.26 L324.7 302.48 L325.29 302.04 L325.9 300.99 L326.5 300.18 L327.1 299.62 L327.69 298.72 L328.3 298.46 L328.91 298.9 L329.53 299.76 L330.2 300.65 L330.57 301.38 L330.96 302.13 L331.36 302.93 L331.77 303.66 L332.18 304.61 L332.6 305.54 L332.96 306.07 L333.31 306.83 L333.67 307.43 L334.03 308.21 L334.41 309.05 L334.8 309.6 L335.2 310.52 L335.69 311.3 L336.2 311.82 L336.72 312.82 L337.27 313.38 L337.82 314.2 L338.4 314.88 L339 315.39 L339.64 316.13 L340.29 316.72 L340.94 317.35 L341.58 317.76 L342.2 318.48 L342.9 319.23 L343.57 319.83 L344.23 320.45 L344.9 320.94 L345.6 321.6 L346.31 321.99 L347 322.45 L347.73 322.75 L348.52 323.04 L349.4 323.3 L350.1 323.77 L350.86 324.13 L351.65 324.38 L352.48 324.98 L353.32 325.28 L354.16 325.48 L355 326.03 L355.84 326.06 L356.69 326.36 L357.54 326.7 L358.41 326.87 L359.27 327.05 L360.14 327.26 L361 327.39 L361.86 327.53 L362.73 327.66 L363.6 327.79 L364.46 328.14 L365.32 328.3 L366.17 328.38 L367 328.57 L367.9 328.6 L368.73 328.69 L369.54 328.84 L370.4 329.09 L371.36 328.95 L372.5 329.2 L373.24 329.19 L374.1 329.42 L375.04 329.37 L376.03 329.43 L377.04 329.53 L378.04 329.64 L379.01 329.78 L379.91 329.72 L380.71 329.92 L381.38 329.75 L381.9 329.83" fill="none" stroke="#15508c" stroke-width="1.4" stroke-linejoin="round" stroke-linecap="round"/>
<line x1="418.7" y1="295.6" x2="481.3" y2="295.6" stroke="#4a4a4a" stroke-width="1.1"/>
<line x1="418.7" y1="295.1" x2="418.7" y2="360.6" stroke="#4a4a4a" stroke-width="1.1"/>
<line x1="418.2" y1="360.6" x2="481.3" y2="360.6" stroke="#4a4a4a" stroke-width="1.1"/>
<line x1="418.7" y1="295.6" x2="418.7" y2="293.6" stroke="#4a4a4a" stroke-width="1.1"/>
<text x="418.8" y="290.6" font-size="6.9" stroke="#222" stroke-width="0.2" text-anchor="middle">−30</text>
<line x1="434.35" y1="295.6" x2="434.35" y2="293.6" stroke="#4a4a4a" stroke-width="1.1"/>
<text x="434.3" y="290.6" font-size="6.9" stroke="#222" stroke-width="0.2" text-anchor="middle">60</text>
<line x1="450" y1="295.6" x2="450" y2="293.6" stroke="#4a4a4a" stroke-width="1.1"/>
<text x="450.5" y="290.6" font-size="6.9" stroke="#222" stroke-width="0.2" text-anchor="middle">150</text>
<line x1="465.65" y1="295.6" x2="465.65" y2="293.6" stroke="#4a4a4a" stroke-width="1.1"/>
<text x="465.8" y="290.6" font-size="6.9" stroke="#222" stroke-width="0.2" text-anchor="middle">240</text>
<line x1="481.3" y1="295.6" x2="481.3" y2="293.6" stroke="#4a4a4a" stroke-width="1.1"/>
<text x="481.3" y="290.6" font-size="6.9" stroke="#222" stroke-width="0.2" text-anchor="middle">330</text>
<line x1="416.5" y1="295.6" x2="418.7" y2="295.6" stroke="#4a4a4a" stroke-width="1.1"/>
<text x="413.2" y="298" font-size="6.9" stroke="#222" stroke-width="0.2" text-anchor="end">−10</text>
<line x1="416.5" y1="306.4" x2="418.7" y2="306.4" stroke="#4a4a4a" stroke-width="1.1"/>
<text x="413.2" y="308.8" font-size="6.9" stroke="#222" stroke-width="0.2" text-anchor="end">10</text>
<line x1="416.5" y1="317.2" x2="418.7" y2="317.2" stroke="#4a4a4a" stroke-width="1.1"/>
<text x="413.2" y="319.6" font-size="6.9" stroke="#222" stroke-width="0.2" text-anchor="end">30</text>
<line x1="416.5" y1="328" x2="418.7" y2="328" stroke="#4a4a4a" stroke-width="1.1"/>
<text x="413.2" y="330.4" font-size="6.9" stroke="#222" stroke-width="0.2" text-anchor="end">50</text>
<line x1="416.5" y1="338.8" x2="418.7" y2="338.8" stroke="#4a4a4a" stroke-width="1.1"/>
<text x="413.2" y="341.2" font-size="6.9" stroke="#222" stroke-width="0.2" text-anchor="end">70</text>
<line x1="416.5" y1="349.6" x2="418.7" y2="349.6" stroke="#4a4a4a" stroke-width="1.1"/>
<text x="413.2" y="352" font-size="6.9" stroke="#222" stroke-width="0.2" text-anchor="end">90</text>
<text font-size="8" stroke="#222" stroke-width="0.2" text-anchor="middle" transform="translate(450.2 280.1) scale(0.8924 1)">Time</text>
<text font-size="8.4" stroke="#222" stroke-width="0.2" text-anchor="middle" transform="translate(398 328.85) rotate(-90) scale(0.8006 1)">% light transmission</text>
<text font-size="7" stroke="#222" stroke-width="0.2" text-anchor="middle" font-style="italic" transform="translate(466.8 309.3) scale(0.9272 1)">Vlk-cKO</text>
<path d="M418.8 300.7 L419.15 300.81 L419.63 300.96 L420.21 301.13 L420.85 301.32 L421.5 301.5 L422 301.66 L422.57 301.86 L423.16 302.07 L423.76 302.27 L424.34 302.41 L424.86 302.46 L425.3 302.4 L425.71 302.14 L426.03 301.72 L426.29 301.2 L426.52 300.63 L426.75 300.08 L427 299.6 L427.31 299.03 L427.58 298.41 L427.87 297.84 L428.2 297.44 L428.6 297.3 L428.94 297.39 L429.32 297.59 L429.73 297.9 L430.16 298.3 L430.6 298.78 L431.05 299.32 L431.5 299.9 L431.74 300.24 L431.98 300.61 L432.22 301.01 L432.46 301.44 L432.7 301.88 L432.94 302.34 L433.19 302.81 L433.45 303.29 L433.71 303.78 L433.97 304.27 L434.24 304.75 L434.52 305.23 L434.8 305.7 L435.07 306.13 L435.35 306.56 L435.63 306.99 L435.91 307.43 L436.2 307.87 L436.5 308.31 L436.8 308.75 L437.1 309.19 L437.41 309.64 L437.72 310.09 L438.04 310.54 L438.36 310.99 L438.68 311.44 L439 311.9 L439.29 312.3 L439.57 312.72 L439.86 313.14 L440.15 313.56 L440.45 313.99 L440.75 314.42 L441.05 314.85 L441.35 315.27 L441.66 315.7 L441.97 316.12 L442.28 316.54 L442.6 316.95 L442.92 317.36 L443.24 317.75 L443.57 318.13 L443.9 318.5 L444.26 318.88 L444.63 319.26 L445.01 319.63 L445.39 319.99 L445.78 320.35 L446.17 320.7 L446.57 321.04 L446.97 321.37 L447.37 321.7 L447.76 322.02 L448.16 322.33 L448.55 322.63 L448.94 322.93 L449.32 323.22 L449.7 323.5 L450.17 323.84 L450.63 324.17 L451.09 324.49 L451.55 324.79 L452 325.09 L452.46 325.37 L452.91 325.64 L453.35 325.9 L453.79 326.14 L454.23 326.37 L454.67 326.59 L455.1 326.8 L455.61 327.02 L456.09 327.22 L456.57 327.39 L457.04 327.55 L457.51 327.69 L457.98 327.82 L458.46 327.94 L458.96 328.05 L459.47 328.17 L460 328.3 L460.46 328.41 L460.94 328.51 L461.44 328.62 L461.94 328.72 L462.46 328.82 L462.98 328.92 L463.49 329.01 L464.01 329.1 L464.52 329.18 L465.03 329.26 L465.52 329.33 L466 329.4 L466.56 329.47 L467.11 329.53 L467.66 329.58 L468.2 329.63 L468.73 329.67 L469.26 329.7 L469.78 329.73 L470.29 329.76 L470.8 329.78 L471.3 329.8 L471.85 329.82 L472.37 329.83 L472.89 329.84 L473.4 329.85 L473.9 329.85 L474.41 329.84 L474.93 329.83 L475.45 329.82 L476 329.8 L476.53 329.77 L477.11 329.74 L477.71 329.7 L478.33 329.65 L478.94 329.6 L479.53 329.55 L480.08 329.5 L480.57 329.46 L480.98 329.43 L481.3 329.4" fill="none" stroke="#3f74bd" stroke-width="1.2" stroke-linejoin="round" stroke-linecap="round"/>
<text x="30.2" y="388.3" font-size="11.5" stroke="#111" stroke-width="0.2" fill="#111" font-weight="bold">H</text>
<text font-size="7" stroke="#222" stroke-width="0.2" text-anchor="middle" transform="translate(126.4 387.5) scale(0.9723 1)">Lysate</text>
<text font-size="7" stroke="#222" stroke-width="0.2" text-anchor="middle" transform="translate(210.2 387.5) scale(1.0069 1)">Supernatant</text>
<line x1="86.2" y1="389.4" x2="166.9" y2="389.4" stroke="#666" stroke-width="0.9"/>
<line x1="169.6" y1="389.4" x2="250.6" y2="389.4" stroke="#666" stroke-width="0.9"/>
<text font-size="7" stroke="#222" stroke-width="0.2" text-anchor="middle" transform="translate(105.5 400.4) scale(0.9453 1)">CTL</text>
<text font-size="7" stroke="#222" stroke-width="0.2" text-anchor="middle" transform="translate(147 400.4) scale(1.0284 1)">cKO</text>
<text font-size="7" stroke="#222" stroke-width="0.2" text-anchor="middle" transform="translate(189 400.4) scale(0.9302 1)">CTL</text>
<text font-size="7" stroke="#222" stroke-width="0.2" text-anchor="middle" transform="translate(230.9 400.4) scale(1.0577 1)">cKO</text>
<line x1="86.2" y1="402.3" x2="124.8" y2="402.3" stroke="#666" stroke-width="0.9"/>
<line x1="127.7" y1="402.3" x2="166.9" y2="402.3" stroke="#666" stroke-width="0.9"/>
<line x1="169.8" y1="402.3" x2="208.8" y2="402.3" stroke="#666" stroke-width="0.9"/>
<line x1="211.2" y1="402.3" x2="250.6" y2="402.3" stroke="#666" stroke-width="0.9"/>
<text font-size="7" stroke="#222" stroke-width="0.2" text-anchor="end" transform="translate(83.1 415.4) scale(0.9649 1)">AYPGKF</text>
<text font-size="7" stroke="#222" stroke-width="0.2" text-anchor="end" transform="translate(83.1 426.2) scale(0.9865 1)">ADP</text>
<text x="90.6" y="415.3" font-size="6.5" stroke="#555" stroke-width="0.2" text-anchor="middle" fill="#555">–</text>
<text x="90.6" y="426.1" font-size="6.5" stroke="#555" stroke-width="0.2" text-anchor="middle" fill="#555">–</text>
<text x="100.99" y="415.3" font-size="6.5" stroke="#555" stroke-width="0.2" text-anchor="middle" fill="#555">+</text>
<text x="100.99" y="426.1" font-size="6.5" stroke="#555" stroke-width="0.2" text-anchor="middle" fill="#555">–</text>
<text x="111.38" y="415.3" font-size="6.5" stroke="#555" stroke-width="0.2" text-anchor="middle" fill="#555">–</text>
<text x="111.38" y="426.1" font-size="6.5" stroke="#555" stroke-width="0.2" text-anchor="middle" fill="#555">+</text>
<text x="121.77" y="415.3" font-size="6.5" stroke="#555" stroke-width="0.2" text-anchor="middle" fill="#555">+</text>
<text x="121.77" y="426.1" font-size="6.5" stroke="#555" stroke-width="0.2" text-anchor="middle" fill="#555">+</text>
<text x="132.16" y="415.3" font-size="6.5" stroke="#555" stroke-width="0.2" text-anchor="middle" fill="#555">–</text>
<text x="132.16" y="426.1" font-size="6.5" stroke="#555" stroke-width="0.2" text-anchor="middle" fill="#555">–</text>
<text x="142.55" y="415.3" font-size="6.5" stroke="#555" stroke-width="0.2" text-anchor="middle" fill="#555">+</text>
<text x="142.55" y="426.1" font-size="6.5" stroke="#555" stroke-width="0.2" text-anchor="middle" fill="#555">–</text>
<text x="152.94" y="415.3" font-size="6.5" stroke="#555" stroke-width="0.2" text-anchor="middle" fill="#555">–</text>
<text x="152.94" y="426.1" font-size="6.5" stroke="#555" stroke-width="0.2" text-anchor="middle" fill="#555">+</text>
<text x="163.33" y="415.3" font-size="6.5" stroke="#555" stroke-width="0.2" text-anchor="middle" fill="#555">+</text>
<text x="163.33" y="426.1" font-size="6.5" stroke="#555" stroke-width="0.2" text-anchor="middle" fill="#555">+</text>
<text x="173.72" y="415.3" font-size="6.5" stroke="#555" stroke-width="0.2" text-anchor="middle" fill="#555">–</text>
<text x="173.72" y="426.1" font-size="6.5" stroke="#555" stroke-width="0.2" text-anchor="middle" fill="#555">–</text>
<text x="184.11" y="415.3" font-size="6.5" stroke="#555" stroke-width="0.2" text-anchor="middle" fill="#555">+</text>
<text x="184.11" y="426.1" font-size="6.5" stroke="#555" stroke-width="0.2" text-anchor="middle" fill="#555">–</text>
<text x="194.5" y="415.3" font-size="6.5" stroke="#555" stroke-width="0.2" text-anchor="middle" fill="#555">–</text>
<text x="194.5" y="426.1" font-size="6.5" stroke="#555" stroke-width="0.2" text-anchor="middle" fill="#555">+</text>
<text x="204.89" y="415.3" font-size="6.5" stroke="#555" stroke-width="0.2" text-anchor="middle" fill="#555">+</text>
<text x="204.89" y="426.1" font-size="6.5" stroke="#555" stroke-width="0.2" text-anchor="middle" fill="#555">+</text>
<text x="215.28" y="415.3" font-size="6.5" stroke="#555" stroke-width="0.2" text-anchor="middle" fill="#555">–</text>
<text x="215.28" y="426.1" font-size="6.5" stroke="#555" stroke-width="0.2" text-anchor="middle" fill="#555">–</text>
<text x="225.67" y="415.3" font-size="6.5" stroke="#555" stroke-width="0.2" text-anchor="middle" fill="#555">+</text>
<text x="225.67" y="426.1" font-size="6.5" stroke="#555" stroke-width="0.2" text-anchor="middle" fill="#555">–</text>
<text x="236.06" y="415.3" font-size="6.5" stroke="#555" stroke-width="0.2" text-anchor="middle" fill="#555">–</text>
<text x="236.06" y="426.1" font-size="6.5" stroke="#555" stroke-width="0.2" text-anchor="middle" fill="#555">+</text>
<text x="246.45" y="415.3" font-size="6.5" stroke="#555" stroke-width="0.2" text-anchor="middle" fill="#555">+</text>
<text x="246.45" y="426.1" font-size="6.5" stroke="#555" stroke-width="0.2" text-anchor="middle" fill="#555">+</text>
<text font-size="7" stroke="#222" stroke-width="0.2" text-anchor="end" transform="translate(73.6 448.3) scale(1.0256 1)">Anti Tsp1</text>
<text font-size="7" stroke="#222" stroke-width="0.2" text-anchor="end" transform="translate(73.6 473.7) scale(0.9923 1)">Anti GAPDH</text>
<text x="292" y="383.3" font-size="11.5" stroke="#111" stroke-width="0.2" fill="#111" font-weight="bold">I</text>
<line x1="335.8" y1="398.02" x2="335.8" y2="462.8" stroke="#4a4a4a" stroke-width="1.1"/>
<line x1="335.3" y1="462.3" x2="400.1" y2="462.3" stroke="#4a4a4a" stroke-width="1.1"/>
<line x1="333.3" y1="462.3" x2="335.8" y2="462.3" stroke="#4a4a4a" stroke-width="1.1"/>
<text x="330.4" y="464.8" font-size="7.1" stroke="#222" stroke-width="0.2" text-anchor="end">0</text>
<line x1="333.3" y1="440.88" x2="335.8" y2="440.88" stroke="#4a4a4a" stroke-width="1.1"/>
<text x="330.4" y="443.38" font-size="7.1" stroke="#222" stroke-width="0.2" text-anchor="end">50</text>
<line x1="333.3" y1="419.45" x2="335.8" y2="419.45" stroke="#4a4a4a" stroke-width="1.1"/>
<text x="330.4" y="421.95" font-size="7.1" stroke="#222" stroke-width="0.2" text-anchor="end">100</text>
<line x1="333.3" y1="398.02" x2="335.8" y2="398.02" stroke="#4a4a4a" stroke-width="1.1"/>
<text x="330.4" y="400.52" font-size="7.1" stroke="#222" stroke-width="0.2" text-anchor="end">150</text>
<text font-size="9" stroke="#3a3a3a" stroke-width="0.2" text-anchor="middle" fill="#3a3a3a" transform="translate(300.9 430.1) rotate(-90) scale(0.7446 1)">% Tsp1 in platelet</text>
<text font-size="9" stroke="#3a3a3a" stroke-width="0.2" text-anchor="middle" fill="#3a3a3a" transform="translate(310.6 430.5) rotate(-90) scale(0.7342 1)">supernatants</text>
<rect x="342.1" y="419.7" width="6.8" height="42.6" fill="#c62035"/>
<rect x="354.9" y="445.3" width="7" height="17" fill="#0e5285"/>
<rect x="373.4" y="416.6" width="7.1" height="45.7" fill="#c62035"/>
<rect x="386.4" y="418" width="7.1" height="44.3" fill="#0e5285"/>
<line x1="345.5" y1="418" x2="345.5" y2="422" stroke="#222" stroke-width="0.8"/>
<line x1="344.3" y1="418" x2="346.7" y2="418" stroke="#222" stroke-width="0.8"/>
<line x1="358.4" y1="442.9" x2="358.4" y2="447" stroke="#222" stroke-width="0.8"/>
<line x1="357.2" y1="442.9" x2="359.6" y2="442.9" stroke="#222" stroke-width="0.8"/>
<line x1="377" y1="414" x2="377" y2="419" stroke="#222" stroke-width="0.8"/>
<line x1="375.8" y1="414" x2="378.2" y2="414" stroke="#222" stroke-width="0.8"/>
<line x1="390" y1="414.3" x2="390" y2="421" stroke="#222" stroke-width="0.8"/>
<line x1="388.8" y1="414.3" x2="391.2" y2="414.3" stroke="#222" stroke-width="0.8"/>
<circle cx="345.5" cy="421.2" r="1.15" fill="#111"/>
<circle cx="358.4" cy="444.8" r="1.15" fill="#111"/>
<circle cx="377" cy="414.3" r="1.15" fill="#111"/>
<circle cx="377" cy="418" r="1.15" fill="#111"/>
<circle cx="390" cy="414.3" r="1.15" fill="#111"/>
<circle cx="390" cy="419.3" r="1.15" fill="#111"/>
<line x1="336.9" y1="413.2" x2="371.8" y2="413.2" stroke="#555" stroke-width="0.9"/>
<text font-size="7" stroke="#444" stroke-width="0.2" fill="#444" transform="translate(337.8 411.4) scale(1.0037 1)">p = 0.0023</text>
<line x1="355.8" y1="400.2" x2="390.7" y2="400.2" stroke="#555" stroke-width="0.9"/>
<text font-size="7" stroke="#444" stroke-width="0.2" fill="#444" transform="translate(356 398.6) scale(1.0217 1)">p = 0.0017</text>
<text font-size="7" stroke="#222" stroke-width="0.2" text-anchor="middle" transform="translate(351.3 470) scale(0.9649 1)">AYPGKF</text>
<text font-size="7" stroke="#222" stroke-width="0.2" text-anchor="middle" transform="translate(383.6 470) scale(0.9685 1)">AYPGKF</text>
<text font-size="7" stroke="#222" stroke-width="0.2" text-anchor="middle" transform="translate(383.7 478.1) scale(1.0329 1)">+ ADP</text>
<rect x="404.3" y="397" width="6.8" height="4.8" fill="#c62035"/>
<rect x="404.3" y="404.2" width="6.8" height="4.6" fill="#0e5285"/>
<text x="413.2" y="401.7" font-size="6.8" font-style="italic" stroke="#222" stroke-width="0.15">Vlk<tspan font-size="4.5" dy="-2.7">f/f</tspan></text>
<text font-size="6.8" stroke="#222" stroke-width="0.2" font-style="italic" transform="translate(413 408.9) scale(0.9705 1)">Vlk-cKO</text>
</g>
</svg>
</body></html>
